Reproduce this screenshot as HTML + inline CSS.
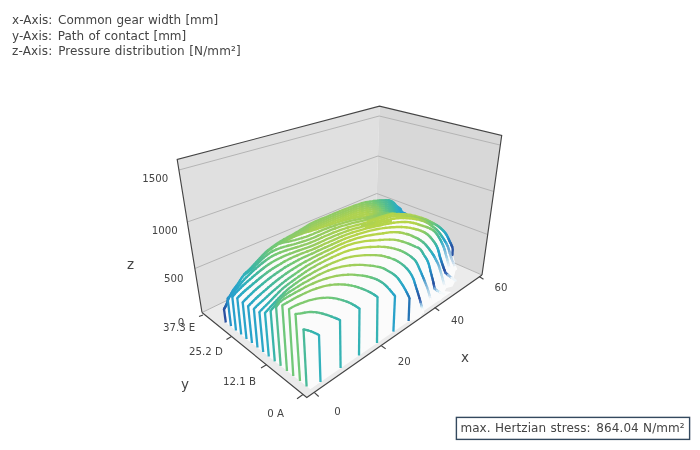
<!DOCTYPE html>
<html><head><meta charset="utf-8"><title>Pressure distribution</title>
<style>
html,body{margin:0;padding:0;background:#fff;}
body{width:700px;height:450px;overflow:hidden;position:relative;font-family:"DejaVu Sans", "Liberation Sans", sans-serif;color:#444;}
.t{position:absolute;white-space:nowrap;line-height:1;}
</style></head><body>
<svg width="700" height="450" viewBox="0 0 700 450" style="position:absolute;left:0;top:0">
<rect width="700" height="450" fill="#fff"/>
<polygon points="177.2,159.5 379.5,106.2 375.7,228.7 202.0,312.5" fill="#e0e0e0"/>
<polygon points="379.5,106.2 501.7,135.5 482.0,275.0 375.7,228.7" fill="#d8d8d8"/>
<polygon points="202.0,312.5 375.7,228.7 482.0,275.0 306.8,397.5" fill="#ebebeb"/>
<polyline points="178.9,170.0 379.2,116.0 500.0,145.0" fill="none" stroke="#b4b4b4" stroke-width="1"/>
<polyline points="187.3,222.0 378.0,156.0 493.8,191.5" fill="none" stroke="#b4b4b4" stroke-width="1"/>
<polyline points="194.9,268.5 376.8,193.5 487.7,234.5" fill="none" stroke="#b4b4b4" stroke-width="1"/>
<polyline points="202.0,312.5 375.7,228.7 482.0,275.0" fill="none" stroke="#b4b4b4" stroke-width="1"/>
<g id="plot" fill="none" stroke-width="2.3" stroke-linecap="round" stroke-linejoin="round">
<polygon points="310.4,389.1 451.2,291.9 444.5,291.0 447.5,286.0 453.0,280.0 456.0,268.0 452.0,250.0 430.0,240.0 300.0,300.0 223.4,320.5" fill="#fbfbfb" stroke="none"/>
<polygon points="224.0,309.2 224.7,307.9 225.5,306.6 226.2,305.3 226.8,304.0 227.1,302.9 227.2,302.0 227.4,301.0 228.0,299.5 229.0,297.4 230.4,294.9 231.8,292.3 233.3,289.9 234.8,287.7 236.4,285.6 237.9,283.6 239.1,281.9 239.9,280.5 240.5,279.4 241.0,278.5 241.5,277.6 242.0,276.8 242.5,276.1 243.1,275.3 244.0,274.4 245.3,273.2 246.8,271.8 248.5,270.3 250.0,268.9 251.3,267.5 252.6,266.2 253.8,264.8 255.0,263.5 256.2,262.1 257.5,260.8 258.8,259.4 260.0,258.1 261.2,256.7 262.5,255.4 263.8,254.0 265.0,252.8 266.2,251.7 267.5,250.6 268.8,249.6 270.0,248.6 271.2,247.6 272.5,246.7 273.8,245.8 275.0,244.9 276.2,244.1 277.4,243.3 278.6,242.5 280.0,241.6 281.6,240.7 283.3,239.7 285.1,238.6 287.0,237.6 289.0,236.5 291.0,235.4 293.0,234.3 295.0,233.2 296.8,232.1 298.5,231.1 300.2,230.0 302.0,228.9 304.0,227.7 306.0,226.5 308.0,225.2 310.0,224.1 311.8,223.1 313.5,222.2 315.2,221.4 317.0,220.6 319.0,219.8 321.1,219.0 323.2,218.2 325.0,217.5 326.3,216.9 327.4,216.5 328.5,216.0 330.0,215.3 332.1,214.4 334.7,213.4 337.4,212.3 340.0,211.2 342.5,210.2 345.0,209.2 347.5,208.2 350.0,207.3 352.6,206.3 355.3,205.4 357.9,204.5 360.0,203.8 361.5,203.3 362.5,203.0 363.5,202.7 365.0,202.4 367.3,202.0 370.0,201.6 372.7,201.2 375.0,200.9 376.5,200.7 377.6,200.6 378.6,200.6 380.0,200.5 382.0,200.4 384.2,200.2 386.5,200.2 388.5,200.3 390.0,200.7 391.3,201.2 392.5,201.8 393.5,202.5 394.4,203.3 395.1,204.2 395.7,205.1 396.5,206.0 397.5,206.8 398.6,207.5 399.7,208.3 400.5,209.0 401.0,209.8 401.2,210.6 401.5,211.3 402.0,212.0 402.8,212.6 403.8,213.1 404.9,213.5 406.0,214.0 408.5,214.5 409.9,214.7 411.1,215.0 412.3,215.3 413.6,215.6 415.0,216.0 416.6,216.4 418.2,216.9 419.9,217.4 421.6,217.9 423.3,218.5 425.0,219.2 426.7,219.9 428.5,220.8 430.2,221.6 432.0,222.5 433.6,223.4 435.0,224.2 436.2,224.9 437.3,225.6 438.3,226.3 439.2,227.0 440.1,227.7 441.0,228.5 441.9,229.3 442.8,230.2 443.7,231.1 444.5,232.0 445.3,233.0 446.0,234.0 446.7,235.1 447.3,236.2 447.9,237.4 448.4,238.6 449.0,239.8 449.5,241.0 450.1,242.2 450.7,243.3 451.2,244.5 451.7,245.7 452.2,246.8 452.5,248.0 452.7,249.2 452.7,250.3 452.6,251.5 452.5,252.7 452.5,253.8 452.4,255.0 455.0,263.0 456.0,268.0 453.0,280.0 447.5,286.0 444.5,291.0 310.4,389.1 225.8,322.5" fill="#fbfbfb" stroke="none"/>
<polyline points="354.0,218.1 356.0,217.7 358.0,217.4 360.0,217.0 362.0,216.7 364.0,216.4 366.0,216.1 368.0,215.7 370.0,215.3" stroke="#aed250"/>
<polyline points="370.0,215.3 372.0,214.9 374.0,214.5" stroke="#a6d055"/>
<polyline points="374.0,214.5 376.0,214.1 378.0,213.7" stroke="#9fce5a"/>
<polyline points="378.0,213.7 380.0,213.3" stroke="#90cb65"/>
<polyline points="380.0,213.3 382.0,213.2" stroke="#88ca6a"/>
<polyline points="382.0,213.2 384.0,213.0" stroke="#80ca6e"/>
<polyline points="384.0,213.0 386.0,212.9" stroke="#70c878"/>
<polyline points="386.0,212.9 388.0,212.7" stroke="#69c57e"/>
<polyline points="388.0,212.7 388.5,212.7 389.0,212.7" stroke="#62c284"/>
<polyline points="389.0,212.7 389.5,212.6" stroke="#5cc08a"/>
<polyline points="338.0,222.2 340.0,221.5 342.0,221.0 344.0,220.4 346.0,219.9 348.0,219.3 350.0,218.8 352.0,218.4 354.0,217.9 356.0,217.2 358.0,216.5 360.0,215.8 362.0,215.1 364.0,214.6 366.0,214.2 368.0,213.9 370.0,213.6" stroke="#aed250"/>
<polyline points="370.0,213.6 372.0,213.3 374.0,213.0" stroke="#a6d055"/>
<polyline points="374.0,213.0 376.0,212.8" stroke="#9fce5a"/>
<polyline points="376.0,212.8 378.0,212.6" stroke="#98cc60"/>
<polyline points="378.0,212.6 380.0,212.5" stroke="#90cb65"/>
<polyline points="380.0,212.5 382.0,212.4" stroke="#88ca6a"/>
<polyline points="382.0,212.4 384.0,212.3" stroke="#80ca6e"/>
<polyline points="384.0,212.3 386.0,212.2" stroke="#70c878"/>
<polyline points="386.0,212.2 388.0,212.3" stroke="#69c57e"/>
<polyline points="388.0,212.3 388.5,212.3" stroke="#62c284"/>
<polyline points="388.5,212.3 389.0,212.4 389.5,212.5 390.0,212.6" stroke="#5cc08a"/>
<polyline points="390.0,212.6 390.5,212.6 391.0,212.6 391.5,212.7" stroke="#55bd90"/>
<polyline points="391.5,212.7 392.0,212.7 392.5,212.7" stroke="#50bb95"/>
<polyline points="392.5,212.7 393.0,212.7 393.5,212.7" stroke="#4aba9a"/>
<polyline points="316.0,229.3 318.0,228.7 320.0,228.0 322.0,227.4 324.0,226.7 326.0,226.1 328.0,225.4 330.0,224.8 332.0,224.1 334.0,223.5 336.0,222.8 338.0,222.0 340.0,221.2 342.0,220.4 344.0,219.6 346.0,218.8 348.0,218.1 350.0,217.3 352.0,216.6 354.0,215.9 356.0,215.2 358.0,214.5 360.0,213.8 362.0,213.1 364.0,212.6 366.0,212.2 368.0,211.9" stroke="#aed250"/>
<polyline points="368.0,211.9 370.0,211.6 372.0,211.3 374.0,211.0" stroke="#a6d055"/>
<polyline points="374.0,211.0 376.0,210.8" stroke="#9fce5a"/>
<polyline points="376.0,210.8 378.0,210.6" stroke="#98cc60"/>
<polyline points="378.0,210.6 380.0,210.5" stroke="#90cb65"/>
<polyline points="380.0,210.5 382.0,210.4" stroke="#80ca6e"/>
<polyline points="382.0,210.4 384.0,210.3" stroke="#78c973"/>
<polyline points="384.0,210.3 386.0,210.2" stroke="#69c57e"/>
<polyline points="386.0,210.2 388.0,210.3" stroke="#62c284"/>
<polyline points="388.0,210.3 388.5,210.3 389.0,210.4" stroke="#5cc08a"/>
<polyline points="389.0,210.4 389.5,210.5 390.0,210.6 390.5,210.8" stroke="#55bd90"/>
<polyline points="390.5,210.8 391.0,211.0 391.5,211.3 392.0,211.5" stroke="#50bb95"/>
<polyline points="392.0,211.5 392.5,211.8 393.0,212.2 393.5,212.5 394.0,212.8" stroke="#4aba9a"/>
<polyline points="394.0,212.8 394.5,212.8 395.0,212.8" stroke="#45b89e"/>
<polyline points="395.0,212.8 395.5,212.8" stroke="#3fb7a3"/>
<polyline points="308.0,231.8 310.0,231.3 312.0,230.6 314.0,229.9 316.0,229.1" stroke="#a6d055"/>
<polyline points="316.0,229.1 318.0,228.2 320.0,227.4 322.0,226.6 324.0,225.9 326.0,225.1 328.0,224.2 330.0,223.3 332.0,222.5 334.0,221.6 336.0,220.8 338.0,220.0 340.0,219.2 342.0,218.4 344.0,217.6 346.0,216.8 348.0,216.1 350.0,215.3 352.0,214.6 354.0,213.9 356.0,213.2 358.0,212.5 360.0,211.8 362.0,211.1" stroke="#aed250"/>
<polyline points="362.0,211.1 364.0,210.6 366.0,210.2 368.0,209.9 370.0,209.6" stroke="#a6d055"/>
<polyline points="370.0,209.6 372.0,209.3 374.0,209.0" stroke="#9fce5a"/>
<polyline points="374.0,209.0 376.0,208.8" stroke="#98cc60"/>
<polyline points="376.0,208.8 378.0,208.6" stroke="#90cb65"/>
<polyline points="378.0,208.6 380.0,208.5" stroke="#88ca6a"/>
<polyline points="380.0,208.5 382.0,208.4" stroke="#80ca6e"/>
<polyline points="382.0,208.4 384.0,208.3" stroke="#70c878"/>
<polyline points="384.0,208.3 386.0,208.2" stroke="#69c57e"/>
<polyline points="386.0,208.2 388.0,208.3" stroke="#5cc08a"/>
<polyline points="388.0,208.3 388.5,208.3 389.0,208.4 389.5,208.5" stroke="#55bd90"/>
<polyline points="389.5,208.5 390.0,208.6 390.5,208.8 391.0,209.0" stroke="#50bb95"/>
<polyline points="391.0,209.0 391.5,209.3 392.0,209.5 392.5,209.8" stroke="#4aba9a"/>
<polyline points="392.5,209.8 393.0,210.2 393.5,210.5 394.0,211.0 394.5,211.5" stroke="#45b89e"/>
<polyline points="394.5,211.5 395.0,212.1 395.5,212.8" stroke="#3fb7a3"/>
<polyline points="395.5,212.8 396.0,212.8" stroke="#3ab5a8"/>
<polyline points="396.0,212.8 396.5,212.9 397.0,212.9" stroke="#37b4ae"/>
<polyline points="397.0,212.9 397.5,212.9" stroke="#34b2b4"/>
<polyline points="300.0,234.5 302.0,233.8 304.0,233.0 306.0,232.4 308.0,231.2 310.0,230.1" stroke="#9fce5a"/>
<polyline points="310.0,230.1 312.0,229.0 314.0,228.0 316.0,227.1 318.0,226.2 320.0,225.4 322.0,224.6 324.0,223.9 326.0,223.1 328.0,222.2 330.0,221.3 332.0,220.5 334.0,219.6 336.0,218.8 338.0,218.0 340.0,217.2 342.0,216.4 344.0,215.6 346.0,214.8 348.0,214.1 350.0,213.3 352.0,212.6 354.0,211.9 356.0,211.2 358.0,210.5 360.0,209.8 362.0,209.1" stroke="#a6d055"/>
<polyline points="362.0,209.1 364.0,208.6 366.0,208.2 368.0,207.9 370.0,207.6" stroke="#9fce5a"/>
<polyline points="370.0,207.6 372.0,207.3" stroke="#98cc60"/>
<polyline points="372.0,207.3 374.0,207.0 376.0,206.8" stroke="#90cb65"/>
<polyline points="376.0,206.8 378.0,206.6" stroke="#88ca6a"/>
<polyline points="378.0,206.6 380.0,206.5" stroke="#80ca6e"/>
<polyline points="380.0,206.5 382.0,206.4" stroke="#70c878"/>
<polyline points="382.0,206.4 384.0,206.3" stroke="#69c57e"/>
<polyline points="384.0,206.3 386.0,206.2" stroke="#62c284"/>
<polyline points="386.0,206.2 388.0,206.3" stroke="#55bd90"/>
<polyline points="388.0,206.3 388.5,206.3 389.0,206.4 389.5,206.5" stroke="#50bb95"/>
<polyline points="389.5,206.5 390.0,206.6 390.5,206.8 391.0,207.0 391.5,207.3" stroke="#4aba9a"/>
<polyline points="391.5,207.3 392.0,207.5 392.5,207.8 393.0,208.2" stroke="#45b89e"/>
<polyline points="393.0,208.2 393.5,208.5 394.0,209.0 394.5,209.5" stroke="#3fb7a3"/>
<polyline points="394.5,209.5 395.0,210.1 395.5,210.8 396.0,211.4" stroke="#3ab5a8"/>
<polyline points="396.0,211.4 396.5,212.0 397.0,212.4" stroke="#37b4ae"/>
<polyline points="397.0,212.4 397.5,212.8 398.0,212.9" stroke="#34b2b4"/>
<polyline points="398.0,212.9 398.5,212.9" stroke="#32b1ba"/>
<polyline points="398.5,212.9 399.0,213.0 399.5,213.0" stroke="#2fb0c0"/>
<polyline points="399.5,213.0 400.0,213.0" stroke="#2dacc3"/>
<polyline points="400.0,213.0 400.5,213.1" stroke="#2ca9c5"/>
<polyline points="284.0,241.4 286.0,240.4" stroke="#88ca6a"/>
<polyline points="286.0,240.4 288.0,239.5 290.0,238.6 292.0,237.7 294.0,236.8" stroke="#90cb65"/>
<polyline points="294.0,236.8 296.0,236.0 298.0,235.2 300.0,234.1 302.0,232.9 304.0,231.7 306.0,230.5 308.0,229.2 310.0,228.1" stroke="#98cc60"/>
<polyline points="310.0,228.1 312.0,227.0 314.0,226.0 316.0,225.1 318.0,224.2 320.0,223.4 322.0,222.6 324.0,221.9 326.0,221.1 328.0,220.2 330.0,219.3 332.0,218.5 334.0,217.6 336.0,216.8 338.0,216.0 340.0,215.2 342.0,214.4 344.0,213.6 346.0,212.8 348.0,212.1 350.0,211.3 352.0,210.6 354.0,209.9 356.0,209.2 358.0,208.5 360.0,207.8 362.0,207.1" stroke="#9fce5a"/>
<polyline points="362.0,207.1 364.0,206.6 366.0,206.2 368.0,205.9" stroke="#98cc60"/>
<polyline points="368.0,205.9 370.0,205.6 372.0,205.3" stroke="#90cb65"/>
<polyline points="372.0,205.3 374.0,205.0" stroke="#88ca6a"/>
<polyline points="374.0,205.0 376.0,204.8 378.0,204.6" stroke="#80ca6e"/>
<polyline points="378.0,204.6 380.0,204.5" stroke="#70c878"/>
<polyline points="380.0,204.5 382.0,204.4" stroke="#69c57e"/>
<polyline points="382.0,204.4 384.0,204.3" stroke="#62c284"/>
<polyline points="384.0,204.3 386.0,204.2" stroke="#5cc08a"/>
<polyline points="386.0,204.2 388.0,204.3 388.5,204.3" stroke="#50bb95"/>
<polyline points="388.5,204.3 389.0,204.4 389.5,204.5 390.0,204.6" stroke="#4aba9a"/>
<polyline points="390.0,204.6 390.5,204.8 391.0,205.0 391.5,205.3" stroke="#45b89e"/>
<polyline points="391.5,205.3 392.0,205.5 392.5,205.8 393.0,206.2 393.5,206.5" stroke="#3fb7a3"/>
<polyline points="393.5,206.5 394.0,207.0 394.5,207.5 395.0,208.1" stroke="#3ab5a8"/>
<polyline points="395.0,208.1 395.5,208.8 396.0,209.4" stroke="#37b4ae"/>
<polyline points="396.0,209.4 396.5,210.0 397.0,210.4" stroke="#34b2b4"/>
<polyline points="397.0,210.4 397.5,210.8 398.0,211.1" stroke="#32b1ba"/>
<polyline points="398.0,211.1 398.5,211.5 399.0,211.8" stroke="#2fb0c0"/>
<polyline points="399.0,211.8 399.5,212.2 400.0,212.6" stroke="#2dacc3"/>
<polyline points="400.0,212.6 400.5,213.0 401.0,213.2" stroke="#2ca9c5"/>
<polyline points="244.0,275.0 246.0,273.2" stroke="#34b2b4"/>
<polyline points="246.0,273.2 248.0,271.5" stroke="#37b4ae"/>
<polyline points="248.0,271.5 250.0,269.7" stroke="#3ab5a8"/>
<polyline points="250.0,269.7 252.0,267.6" stroke="#3fb7a3"/>
<polyline points="252.0,267.6 254.0,265.4" stroke="#45b89e"/>
<polyline points="254.0,265.4 256.0,263.2" stroke="#4aba9a"/>
<polyline points="256.0,263.2 258.0,261.1" stroke="#50bb95"/>
<polyline points="258.0,261.1 260.0,258.9" stroke="#55bd90"/>
<polyline points="260.0,258.9 262.0,256.7" stroke="#5cc08a"/>
<polyline points="262.0,256.7 264.0,254.6 266.0,252.7" stroke="#62c284"/>
<polyline points="266.0,252.7 268.0,251.2" stroke="#69c57e"/>
<polyline points="268.0,251.2 270.0,249.7 272.0,248.3" stroke="#70c878"/>
<polyline points="272.0,248.3 274.0,246.9 276.0,245.7" stroke="#78c973"/>
<polyline points="276.0,245.7 278.0,244.4 280.0,243.3" stroke="#80ca6e"/>
<polyline points="280.0,243.3 282.0,242.3 284.0,241.3 286.0,240.2 288.0,239.0" stroke="#88ca6a"/>
<polyline points="288.0,239.0 290.0,238.0 292.0,236.9 294.0,235.8 296.0,234.6 298.0,233.4 300.0,232.1 302.0,230.9 304.0,229.7 306.0,228.5 308.0,227.2 310.0,226.1" stroke="#90cb65"/>
<polyline points="310.0,226.1 312.0,225.0 314.0,224.0 316.0,223.1 318.0,222.2 320.0,221.4 322.0,220.6 324.0,219.9 326.0,219.1 328.0,218.2 330.0,217.3 332.0,216.5 334.0,215.6 336.0,214.8 338.0,214.0 340.0,213.2 342.0,212.4 344.0,211.6 346.0,210.8 348.0,210.1 350.0,209.3 352.0,208.6 354.0,207.9 356.0,207.2 358.0,206.5 360.0,205.8 362.0,205.1" stroke="#98cc60"/>
<polyline points="362.0,205.1 364.0,204.6 366.0,204.2 368.0,203.9" stroke="#90cb65"/>
<polyline points="368.0,203.9 370.0,203.6" stroke="#88ca6a"/>
<polyline points="370.0,203.6 372.0,203.3 374.0,203.0" stroke="#80ca6e"/>
<polyline points="374.0,203.0 376.0,202.8" stroke="#78c973"/>
<polyline points="376.0,202.8 378.0,202.6" stroke="#70c878"/>
<polyline points="378.0,202.6 380.0,202.5" stroke="#69c57e"/>
<polyline points="380.0,202.5 382.0,202.4" stroke="#62c284"/>
<polyline points="382.0,202.4 384.0,202.3" stroke="#5cc08a"/>
<polyline points="384.0,202.3 386.0,202.2" stroke="#55bd90"/>
<polyline points="386.0,202.2 388.0,202.3" stroke="#50bb95"/>
<polyline points="388.0,202.3 388.5,202.3 389.0,202.4" stroke="#4aba9a"/>
<polyline points="389.0,202.4 389.5,202.5 390.0,202.6 390.5,202.8" stroke="#45b89e"/>
<polyline points="390.5,202.8 391.0,203.0 391.5,203.3 392.0,203.5" stroke="#3fb7a3"/>
<polyline points="392.0,203.5 392.5,203.8 393.0,204.2 393.5,204.5 394.0,205.0" stroke="#3ab5a8"/>
<polyline points="394.0,205.0 394.5,205.5 395.0,206.1 395.5,206.8" stroke="#37b4ae"/>
<polyline points="395.5,206.8 396.0,207.4 396.5,208.0" stroke="#34b2b4"/>
<polyline points="396.5,208.0 397.0,208.4 397.5,208.8" stroke="#32b1ba"/>
<polyline points="397.5,208.8 398.0,209.1 398.5,209.5" stroke="#2fb0c0"/>
<polyline points="398.5,209.5 399.0,209.8 399.5,210.2" stroke="#2dacc3"/>
<polyline points="399.5,210.2 400.0,210.6 400.5,211.0" stroke="#2ca9c5"/>
<polyline points="400.5,211.0 401.0,211.8 401.5,213.2" stroke="#2aa5c8"/>
<polyline points="401.5,213.2 402.0,213.3" stroke="#29a3c9"/>
<polyline points="402.0,213.3 402.5,213.4 403.0,213.5 403.5,213.6" stroke="#29a2cb"/>
<polyline points="403.5,213.6 404.0,213.7 404.5,213.8" stroke="#28a0cc"/>
<polyline points="404.5,213.8 405.0,213.8 405.5,213.9 406.0,214.0" stroke="#2799c9"/>
<polyline points="244.0,274.4 246.0,272.5" stroke="#32b1ba"/>
<polyline points="246.0,272.5 248.0,270.8" stroke="#34b2b4"/>
<polyline points="248.0,270.8 250.0,268.9" stroke="#37b4ae"/>
<polyline points="250.0,268.9 252.0,266.8" stroke="#3ab5a8"/>
<polyline points="252.0,266.8 254.0,264.6" stroke="#3fb7a3"/>
<polyline points="254.0,264.6 256.0,262.4" stroke="#45b89e"/>
<polyline points="256.0,262.4 258.0,260.3" stroke="#4aba9a"/>
<polyline points="258.0,260.3 260.0,258.1" stroke="#50bb95"/>
<polyline points="260.0,258.1 262.0,255.9" stroke="#55bd90"/>
<polyline points="262.0,255.9 264.0,253.8 266.0,251.9" stroke="#5cc08a"/>
<polyline points="266.0,251.9 268.0,250.2" stroke="#62c284"/>
<polyline points="268.0,250.2 270.0,248.6 272.0,247.1" stroke="#69c57e"/>
<polyline points="272.0,247.1 274.0,245.6 276.0,244.2 278.0,242.9" stroke="#70c878"/>
<polyline points="278.0,242.9 280.0,241.6 282.0,240.4 284.0,239.3" stroke="#78c973"/>
<polyline points="284.0,239.3 286.0,238.2 288.0,237.0 290.0,236.0" stroke="#80ca6e"/>
<polyline points="290.0,236.0 292.0,234.9 294.0,233.8 296.0,232.6 298.0,231.4 300.0,230.1 302.0,228.9 304.0,227.7 306.0,226.5 308.0,225.2 310.0,224.1" stroke="#88ca6a"/>
<polyline points="310.0,224.1 312.0,223.0 314.0,222.0 316.0,221.1 318.0,220.2 320.0,219.4 322.0,218.6 324.0,217.9 326.0,217.1 328.0,216.2 330.0,215.3 332.0,214.5 334.0,213.6 336.0,212.8 338.0,212.0 340.0,211.2" stroke="#90cb65"/>
<polyline points="340.0,211.2 342.0,210.4 344.0,209.6 346.0,208.8 348.0,208.1 350.0,207.3 352.0,206.6 354.0,205.9" stroke="#98cc60"/>
<polyline points="354.0,205.9 356.0,205.2 358.0,204.5 360.0,203.8 362.0,203.1" stroke="#90cb65"/>
<polyline points="362.0,203.1 364.0,202.6 366.0,202.2" stroke="#88ca6a"/>
<polyline points="366.0,202.2 368.0,201.9 370.0,201.6" stroke="#80ca6e"/>
<polyline points="370.0,201.6 372.0,201.3 374.0,201.0" stroke="#78c973"/>
<polyline points="374.0,201.0 376.0,200.8" stroke="#70c878"/>
<polyline points="376.0,200.8 378.0,200.6" stroke="#69c57e"/>
<polyline points="378.0,200.6 380.0,200.5" stroke="#62c284"/>
<polyline points="380.0,200.5 382.0,200.4" stroke="#5cc08a"/>
<polyline points="382.0,200.4 384.0,200.3" stroke="#55bd90"/>
<polyline points="384.0,200.3 386.0,200.2" stroke="#50bb95"/>
<polyline points="386.0,200.2 388.0,200.3" stroke="#4aba9a"/>
<polyline points="388.0,200.3 388.5,200.3 389.0,200.4" stroke="#45b89e"/>
<polyline points="389.0,200.4 389.5,200.5 390.0,200.6 390.5,200.8 391.0,201.0" stroke="#3fb7a3"/>
<polyline points="391.0,201.0 391.5,201.3 392.0,201.5 392.5,201.8" stroke="#3ab5a8"/>
<polyline points="392.5,201.8 393.0,202.2 393.5,202.5 394.0,203.0" stroke="#37b4ae"/>
<polyline points="394.0,203.0 394.5,203.5 395.0,204.1 395.5,204.8" stroke="#34b2b4"/>
<polyline points="395.5,204.8 396.0,205.4 396.5,206.0" stroke="#32b1ba"/>
<polyline points="396.5,206.0 397.0,206.4 397.5,206.8" stroke="#2fb0c0"/>
<polyline points="397.5,206.8 398.0,207.1 398.5,207.5" stroke="#2dacc3"/>
<polyline points="398.5,207.5 399.0,207.8 399.5,208.2" stroke="#2ca9c5"/>
<polyline points="399.5,208.2 400.0,208.6 400.5,209.0" stroke="#2aa5c8"/>
<polyline points="400.5,209.0 401.0,209.8 401.5,211.3" stroke="#29a3c9"/>
<polyline points="401.5,211.3 402.0,212.0 402.5,212.3 403.0,212.7" stroke="#29a2cb"/>
<polyline points="403.0,212.7 403.5,212.9 404.0,213.1 404.5,213.3" stroke="#28a0cc"/>
<polyline points="404.5,213.3 405.0,213.5 405.5,213.8 406.0,214.0" stroke="#2799c9"/>
<polyline points="280.0,243.3 281.2,243.1" stroke="#78c973" stroke-width="2.4"/>
<polyline points="281.2,243.1 282.3,242.8 283.4,242.6 284.6,242.3 285.8,242.1 287.0,241.8 288.3,241.6" stroke="#80ca6e" stroke-width="2.4"/>
<polyline points="288.3,241.6 289.6,241.3 291.0,241.0 292.4,240.7 293.7,240.4 295.0,240.1 296.2,239.7 297.4,239.4 298.5,239.1 299.6,238.7 300.8,238.4 302.0,238.0" stroke="#88ca6a" stroke-width="2.4"/>
<polyline points="302.0,238.0 303.3,237.6 304.5,237.2 305.8,236.8 307.1,236.3 308.5,235.8 310.0,235.2 311.6,234.6 313.2,234.0 314.9,233.2 316.6,232.5 318.3,231.8" stroke="#90cb65" stroke-width="2.4"/>
<polyline points="318.3,231.8 320.0,231.1 321.7,230.4 323.3,229.7 325.0,229.1 326.7,228.5 328.3,227.8 330.0,227.2 331.7,226.6 333.3,226.1 335.0,225.5" stroke="#98cc60" stroke-width="2.4"/>
<polyline points="335.0,225.5 336.7,224.9 338.3,224.4 340.0,223.9 341.7,223.4 343.4,222.9 345.1,222.4 346.8,221.9 348.4,221.5 350.0,221.1 351.5,220.7 352.9,220.4 354.2,220.1 355.5,219.8 356.7,219.6 358.0,219.3 359.2,219.1 360.4,218.9 361.6,218.6 362.7,218.4 363.8,218.2 365.0,218.0 366.2,217.7 367.3,217.5" stroke="#9fce5a" stroke-width="2.4"/>
<polyline points="367.3,217.5 368.4,217.2 369.6,217.0 370.8,216.7 372.0,216.4 373.3,216.1 374.6,215.7" stroke="#98cc60" stroke-width="2.4"/>
<polyline points="374.6,215.7 375.9,215.4 377.3,215.0 378.7,214.7" stroke="#90cb65" stroke-width="2.4"/>
<polyline points="378.7,214.7 380.0,214.4 381.3,214.1 382.7,213.8" stroke="#88ca6a" stroke-width="2.4"/>
<polyline points="382.7,213.8 384.0,213.6 385.3,213.4 386.7,213.1" stroke="#80ca6e" stroke-width="2.4"/>
<polyline points="386.7,213.1 388.0,212.9" stroke="#78c973" stroke-width="2.4"/>
<line x1="225.8" y1="322.5" x2="224" y2="309.2" stroke="#2a4fa0" stroke-linecap="butt"/>
<polyline points="224.0,309.2 224.4,308.4" stroke="#2a4fa0" stroke-width="2.4"/>
<polyline points="224.4,308.4 224.9,307.6" stroke="#2a54a3" stroke-width="2.4"/>
<polyline points="224.9,307.6 225.4,306.7" stroke="#295aa6" stroke-width="2.4"/>
<polyline points="225.4,306.7 225.8,305.9" stroke="#285faa" stroke-width="2.4"/>
<polyline points="225.8,305.9 226.2,305.1" stroke="#2865ad" stroke-width="2.4"/>
<polyline points="226.2,305.1 226.6,304.3" stroke="#286ab0" stroke-width="2.4"/>
<polyline points="226.6,304.3 226.9,303.5" stroke="#276fb3" stroke-width="2.4"/>
<polyline points="226.9,303.5 227.2,302.7" stroke="#2675b6" stroke-width="2.4"/>
<polyline points="227.2,302.7 227.4,301.9 227.7,301.1" stroke="#267aba" stroke-width="2.4"/>
<polyline points="227.7,301.1 227.9,300.3" stroke="#2680bd" stroke-width="2.4"/>
<polyline points="227.9,300.3 228.2,299.5 228.5,298.7" stroke="#2585c0" stroke-width="2.4"/>
<polyline points="228.5,298.7 228.9,298.0 229.3,297.3 229.7,296.5 230.1,295.8" stroke="#268cc3" stroke-width="2.4"/>
<polyline points="230.1,295.8 230.5,295.0 230.9,294.2 231.4,293.3" stroke="#2692c6" stroke-width="2.4"/>
<polyline points="231.4,293.3 231.8,292.5 232.3,291.6" stroke="#2799c9" stroke-width="2.4"/>
<polyline points="232.3,291.6 232.8,290.8 233.3,290.0" stroke="#28a0cc" stroke-width="2.4"/>
<polyline points="233.3,290.0 233.8,289.3 234.4,288.5 234.9,287.8" stroke="#29a2cb" stroke-width="2.4"/>
<polyline points="234.9,287.8 235.5,287.1 236.0,286.4 236.5,285.7" stroke="#29a3c9" stroke-width="2.4"/>
<polyline points="236.5,285.7 237.0,285.0 237.4,284.4 237.8,283.8 238.3,283.2" stroke="#2aa5c8" stroke-width="2.4"/>
<polyline points="238.3,283.2 238.7,282.6 239.1,281.9 239.5,281.3 239.9,280.6" stroke="#2ca9c5" stroke-width="2.4"/>
<polyline points="239.9,280.6 240.3,279.9 240.7,279.3 241.1,278.6 241.5,278.0 241.9,277.5 242.3,276.9" stroke="#2dacc3" stroke-width="2.4"/>
<polyline points="242.3,276.9 242.7,276.4 243.1,275.9 243.6,275.5 244.0,275.0 244.5,274.6" stroke="#2fb0c0" stroke-width="2.4"/>
<polyline points="244.5,274.6 245.0,274.2 245.5,273.8 246.0,273.4 246.5,273.0" stroke="#32b1ba" stroke-width="2.4"/>
<polyline points="246.5,273.0 247.0,272.6 247.5,272.3 247.9,272.1 248.2,271.8 248.7,271.5" stroke="#34b2b4" stroke-width="2.4"/>
<polyline points="248.7,271.5 249.3,271.1 250.0,270.5 250.9,269.7" stroke="#37b4ae" stroke-width="2.4"/>
<polyline points="250.9,269.7 252.0,268.8 253.2,267.6" stroke="#3ab5a8" stroke-width="2.4"/>
<polyline points="253.2,267.6 254.4,266.4" stroke="#3fb7a3" stroke-width="2.4"/>
<polyline points="254.4,266.4 255.7,265.2 257.0,264.0" stroke="#45b89e" stroke-width="2.4"/>
<polyline points="257.0,264.0 258.3,262.8 259.6,261.5" stroke="#4aba9a" stroke-width="2.4"/>
<polyline points="259.6,261.5 261.0,260.2" stroke="#50bb95" stroke-width="2.4"/>
<polyline points="261.0,260.2 262.4,258.9 263.7,257.7" stroke="#55bd90" stroke-width="2.4"/>
<polyline points="263.7,257.7 265.0,256.6 266.2,255.6" stroke="#5cc08a" stroke-width="2.4"/>
<polyline points="266.2,255.6 267.4,254.7 268.5,253.9" stroke="#62c284" stroke-width="2.4"/>
<polyline points="268.5,253.9 269.6,253.1 270.8,252.3 272.0,251.6" stroke="#69c57e" stroke-width="2.4"/>
<polyline points="272.0,251.6 273.3,250.9 274.6,250.3 276.0,249.7" stroke="#70c878" stroke-width="2.4"/>
<polyline points="276.0,249.7 277.4,249.1 278.7,248.6 280.0,248.2 281.2,247.7" stroke="#78c973" stroke-width="2.4"/>
<polyline points="281.2,247.7 282.4,247.4 283.5,247.0 284.6,246.7 285.8,246.4 287.0,246.0 288.3,245.7" stroke="#80ca6e" stroke-width="2.4"/>
<polyline points="288.3,245.7 289.6,245.3 291.0,245.0 292.4,244.6 293.7,244.3 295.0,243.9 296.2,243.6 297.4,243.2 298.5,242.9 299.6,242.5 300.8,242.2 302.0,241.8" stroke="#88ca6a" stroke-width="2.4"/>
<polyline points="302.0,241.8 303.3,241.4 304.5,241.0 305.8,240.6 307.1,240.1 308.5,239.6 310.0,239.1 311.6,238.4 313.2,237.8 314.9,237.1 316.6,236.3 318.3,235.5" stroke="#90cb65" stroke-width="2.4"/>
<polyline points="318.3,235.5 320.0,234.8 321.7,234.0 323.3,233.3 325.0,232.5 326.7,231.8 328.3,231.1 330.0,230.4 331.7,229.7 333.3,229.1 335.0,228.5" stroke="#98cc60" stroke-width="2.4"/>
<polyline points="335.0,228.5 336.7,227.9 338.3,227.3 340.0,226.7 341.6,226.2 343.1,225.7 344.7,225.3 346.3,224.8 348.0,224.3 350.0,223.8 352.2,223.2 354.6,222.6 357.2,222.0 359.8,221.4 362.4,220.8 365.0,220.1 367.6,219.4" stroke="#9fce5a" stroke-width="2.4"/>
<polyline points="367.6,219.4 370.3,218.6 372.9,217.8 375.5,217.1" stroke="#98cc60" stroke-width="2.4"/>
<polyline points="375.5,217.1 377.9,216.4" stroke="#90cb65" stroke-width="2.4"/>
<polyline points="377.9,216.4 380.0,215.7 381.8,215.3 383.2,214.9" stroke="#88ca6a" stroke-width="2.4"/>
<polyline points="383.2,214.9 384.5,214.6 385.7,214.3" stroke="#80ca6e" stroke-width="2.4"/>
<polyline points="385.7,214.3 386.8,214.1 388.0,213.9 389.2,213.7" stroke="#78c973" stroke-width="2.4"/>
<polyline points="389.2,213.7 390.4,213.5 391.6,213.4 392.7,213.2" stroke="#70c878" stroke-width="2.4"/>
<polyline points="392.7,213.2 393.8,213.2 395.0,213.1" stroke="#69c57e" stroke-width="2.4"/>
<polyline points="368.0,220.8 370.5,220.0 373.0,219.3 375.5,218.5 378.0,217.7 380.5,216.9 383.0,216.1 385.5,215.3 388.0,214.6 390.5,214.0 393.0,213.7" stroke="#aed250"/>
<line x1="231" y1="326.2" x2="227.6" y2="298.6" stroke="#2692c6" stroke-linecap="butt"/>
<polyline points="227.6,298.6 228.0,298.1 228.4,297.7 228.8,297.2" stroke="#2692c6" stroke-width="2.4"/>
<polyline points="228.8,297.2 229.2,296.7 229.6,296.3 230.0,295.8 230.5,295.3 231.0,294.8" stroke="#2799c9" stroke-width="2.4"/>
<polyline points="231.0,294.8 231.5,294.3 232.0,293.8 232.5,293.3" stroke="#28a0cc" stroke-width="2.4"/>
<polyline points="232.5,293.3 233.0,292.8 233.5,292.3 234.0,291.7 234.4,291.2" stroke="#29a2cb" stroke-width="2.4"/>
<polyline points="234.4,291.2 234.9,290.6 235.4,290.0 236.0,289.3 236.6,288.6" stroke="#29a3c9" stroke-width="2.4"/>
<polyline points="236.6,288.6 237.2,287.8 237.9,287.1" stroke="#2aa5c8" stroke-width="2.4"/>
<polyline points="237.9,287.1 238.6,286.2 239.3,285.4 240.0,284.5" stroke="#2ca9c5" stroke-width="2.4"/>
<polyline points="240.0,284.5 240.8,283.6 241.6,282.6 242.4,281.5" stroke="#2dacc3" stroke-width="2.4"/>
<polyline points="242.4,281.5 243.3,280.5 244.2,279.6" stroke="#2fb0c0" stroke-width="2.4"/>
<polyline points="244.2,279.6 245.0,278.6 245.8,277.8 246.6,277.0" stroke="#32b1ba" stroke-width="2.4"/>
<polyline points="246.6,277.0 247.4,276.3 248.2,275.5 249.1,274.7" stroke="#34b2b4" stroke-width="2.4"/>
<polyline points="249.1,274.7 250.0,273.8 251.0,272.8" stroke="#37b4ae" stroke-width="2.4"/>
<polyline points="251.0,272.8 252.1,271.8 253.3,270.7" stroke="#3ab5a8" stroke-width="2.4"/>
<polyline points="253.3,270.7 254.5,269.6 255.8,268.5" stroke="#3fb7a3" stroke-width="2.4"/>
<polyline points="255.8,268.5 257.0,267.4 258.3,266.3" stroke="#45b89e" stroke-width="2.4"/>
<polyline points="258.3,266.3 259.6,265.2" stroke="#4aba9a" stroke-width="2.4"/>
<polyline points="259.6,265.2 261.0,264.1 262.4,263.0" stroke="#50bb95" stroke-width="2.4"/>
<polyline points="262.4,263.0 263.7,262.0 265.0,261.0" stroke="#55bd90" stroke-width="2.4"/>
<polyline points="265.0,261.0 266.2,260.1" stroke="#5cc08a" stroke-width="2.4"/>
<polyline points="266.2,260.1 267.4,259.3 268.5,258.5" stroke="#62c284" stroke-width="2.4"/>
<polyline points="268.5,258.5 269.6,257.7 270.8,257.0 272.0,256.3" stroke="#69c57e" stroke-width="2.4"/>
<polyline points="272.0,256.3 273.3,255.6 274.6,254.9 276.0,254.3" stroke="#70c878" stroke-width="2.4"/>
<polyline points="276.0,254.3 277.4,253.7 278.7,253.1 280.0,252.6" stroke="#78c973" stroke-width="2.4"/>
<polyline points="280.0,252.6 281.2,252.1 282.4,251.7 283.5,251.3 284.6,250.9 285.8,250.5 287.0,250.1" stroke="#80ca6e" stroke-width="2.4"/>
<polyline points="287.0,250.1 288.3,249.7 289.6,249.3 291.0,248.9 292.4,248.5 293.7,248.1 295.0,247.7 296.2,247.4" stroke="#88ca6a" stroke-width="2.4"/>
<polyline points="296.2,247.4 297.4,247.0 298.5,246.6 299.6,246.3 300.8,245.9 302.0,245.5 303.3,245.1 304.5,244.7 305.8,244.3 307.1,243.9 308.5,243.4 310.0,242.8" stroke="#90cb65" stroke-width="2.4"/>
<polyline points="310.0,242.8 311.6,242.2 313.2,241.5 314.9,240.8 316.6,240.0 318.3,239.3 320.0,238.5 321.7,237.7" stroke="#98cc60" stroke-width="2.4"/>
<polyline points="321.7,237.7 323.3,237.0 325.0,236.2 326.7,235.5 328.3,234.8 330.0,234.1 331.7,233.4 333.3,232.7" stroke="#9fce5a" stroke-width="2.4"/>
<polyline points="333.3,232.7 335.0,232.1 336.7,231.5 338.3,230.8 340.0,230.2 341.6,229.6 343.1,229.1 344.7,228.6 346.3,228.0 348.0,227.5" stroke="#a6d055" stroke-width="2.4"/>
<polyline points="348.0,227.5 350.0,226.9 352.2,226.3 354.6,225.6 357.2,225.0 359.8,224.3 362.4,223.6 365.0,222.9" stroke="#aed250" stroke-width="2.4"/>
<polyline points="365.0,222.9 367.6,222.2 370.3,221.5 372.9,220.7 375.5,219.9 377.9,219.1 380.0,218.4 381.8,217.8 383.2,217.3 384.5,216.8 385.7,216.4 386.8,216.0 388.0,215.6 389.2,215.3 390.2,215.0 391.2,214.8 392.3,214.6 393.6,214.4 395.0,214.2" stroke="#b5d44a" stroke-width="2.4"/>
<polyline points="395.0,214.2 396.8,214.1 398.8,214.0 400.9,214.1 403.1,214.2 405.2,214.3 407.0,214.4 408.5,214.6 409.9,214.8 411.1,215.0 412.3,215.3 413.6,215.6 415.0,216.0" stroke="#aed250" stroke-width="2.4"/>
<polyline points="415.0,216.0 416.6,216.4 418.2,216.9 419.9,217.4 421.6,217.9" stroke="#a6d055" stroke-width="2.4"/>
<polyline points="421.6,217.9 423.3,218.5 425.0,219.2" stroke="#9fce5a" stroke-width="2.4"/>
<polyline points="425.0,219.2 426.7,219.9" stroke="#98cc60" stroke-width="2.4"/>
<polyline points="426.7,219.9 428.5,220.8" stroke="#90cb65" stroke-width="2.4"/>
<polyline points="428.5,220.8 430.2,221.6" stroke="#88ca6a" stroke-width="2.4"/>
<polyline points="430.2,221.6 432.0,222.5" stroke="#80ca6e" stroke-width="2.4"/>
<polyline points="432.0,222.5 433.6,223.4" stroke="#78c973" stroke-width="2.4"/>
<polyline points="433.6,223.4 435.0,224.2" stroke="#69c57e" stroke-width="2.4"/>
<polyline points="435.0,224.2 436.2,224.9" stroke="#62c284" stroke-width="2.4"/>
<polyline points="436.2,224.9 437.3,225.6" stroke="#5cc08a" stroke-width="2.4"/>
<polyline points="437.3,225.6 438.3,226.3" stroke="#55bd90" stroke-width="2.4"/>
<polyline points="438.3,226.3 439.2,227.0" stroke="#50bb95" stroke-width="2.4"/>
<polyline points="439.2,227.0 440.1,227.7" stroke="#4aba9a" stroke-width="2.4"/>
<polyline points="440.1,227.7 441.0,228.5" stroke="#45b89e" stroke-width="2.4"/>
<polyline points="441.0,228.5 441.9,229.3" stroke="#3ab5a8" stroke-width="2.4"/>
<polyline points="441.9,229.3 442.8,230.2" stroke="#37b4ae" stroke-width="2.4"/>
<polyline points="442.8,230.2 443.7,231.1" stroke="#34b2b4" stroke-width="2.4"/>
<polyline points="443.7,231.1 444.5,232.0" stroke="#2fb0c0" stroke-width="2.4"/>
<polyline points="444.5,232.0 445.3,233.0" stroke="#2dacc3" stroke-width="2.4"/>
<polyline points="445.3,233.0 446.0,234.0" stroke="#2ca9c5" stroke-width="2.4"/>
<polyline points="446.0,234.0 446.7,235.1" stroke="#29a3c9" stroke-width="2.4"/>
<polyline points="446.7,235.1 447.3,236.2" stroke="#29a2cb" stroke-width="2.4"/>
<polyline points="447.3,236.2 447.9,237.4" stroke="#28a0cc" stroke-width="2.4"/>
<polyline points="447.9,237.4 448.4,238.6" stroke="#2799c9" stroke-width="2.4"/>
<polyline points="448.4,238.6 449.0,239.8" stroke="#268cc3" stroke-width="2.4"/>
<polyline points="449.0,239.8 449.5,241.0" stroke="#2585c0" stroke-width="2.4"/>
<polyline points="449.5,241.0 450.1,242.2" stroke="#267aba" stroke-width="2.4"/>
<polyline points="450.1,242.2 450.7,243.3" stroke="#2675b6" stroke-width="2.4"/>
<polyline points="450.7,243.3 451.2,244.5" stroke="#286ab0" stroke-width="2.4"/>
<polyline points="451.2,244.5 451.7,245.7" stroke="#285faa" stroke-width="2.4"/>
<polyline points="451.7,245.7 452.2,246.8" stroke="#295aa6" stroke-width="2.4"/>
<polyline points="452.2,246.8 452.5,248.0 452.7,249.2 452.7,250.3 452.6,251.5 452.5,252.7 452.5,253.8 452.4,255.0" stroke="#2a54a3" stroke-width="2.4"/>
<polyline points="362.0,225.3 364.5,224.6 367.0,224.0 369.5,223.3 372.0,222.6 374.5,222.0 377.0,221.3" stroke="#aed250"/>
<polyline points="377.0,221.3 379.5,220.5 382.0,219.8 384.5,218.9 387.0,218.0 389.5,217.2 392.0,216.5 394.5,216.1 397.0,215.9 399.5,215.9 402.0,215.9" stroke="#b5d44a"/>
<polyline points="402.0,215.9 404.5,216.0 407.0,216.2" stroke="#aed250"/>
<polyline points="407.0,216.2 409.5,216.5 412.0,216.9" stroke="#a6d055"/>
<polyline points="412.0,216.9 414.5,217.4" stroke="#9fce5a"/>
<polyline points="414.5,217.4 417.0,218.0 419.5,218.6" stroke="#98cc60"/>
<polyline points="419.5,218.6 422.0,219.4" stroke="#90cb65"/>
<polyline points="422.0,219.4 424.5,220.3" stroke="#88ca6a"/>
<polyline points="424.5,220.3 427.0,221.4" stroke="#80ca6e"/>
<polyline points="427.0,221.4 429.5,222.7" stroke="#70c878"/>
<polyline points="429.5,222.7 432.0,224.3" stroke="#69c57e"/>
<polygon points="236.0,330.5 232.3,296.6 233.1,295.8 233.8,294.9 234.6,294.1 235.3,293.3 236.1,292.4 237.0,291.5 237.9,290.6 238.9,289.6 239.9,288.6 240.9,287.6 241.9,286.5 243.0,285.5 244.1,284.5 245.3,283.5 246.4,282.4 247.6,281.4 248.8,280.3 250.0,279.3 251.2,278.3 252.3,277.3 253.4,276.3 254.6,275.4 255.8,274.4 257.0,273.3 258.3,272.3 259.6,271.2 261.0,270.1 262.4,269.1 263.7,268.0 265.0,267.0 266.2,266.1 267.4,265.3 268.5,264.5 269.6,263.7 270.8,263.0 272.0,262.2 273.3,261.5 274.6,260.7 276.0,260.0 277.4,259.3 278.7,258.7 280.0,258.0 281.2,257.5 282.4,256.9 283.5,256.4 284.6,255.9 285.8,255.4 287.0,254.9 288.3,254.4 289.6,253.8 291.0,253.3 292.4,252.8 293.7,252.3 295.0,251.8 296.2,251.4 297.4,251.0 298.5,250.6 299.6,250.2 300.8,249.8 302.0,249.4 303.3,249.0 304.5,248.5 305.8,248.1 307.1,247.7 308.5,247.2 310.0,246.6 311.6,246.0 313.2,245.3 314.9,244.6 316.6,243.8 318.3,243.1 320.0,242.3 321.7,241.5 323.3,240.8 325.0,240.0 326.7,239.2 328.3,238.5 330.0,237.8 331.7,237.1 333.3,236.4 335.0,235.7 336.7,235.0 338.3,234.4 340.0,233.7 341.6,233.1 343.1,232.5 344.7,231.9 346.3,231.3 348.0,230.7 350.0,230.1 352.2,229.4 354.6,228.7 357.2,228.0 359.8,227.3 362.4,226.7 365.0,226.0 367.6,225.4 370.3,224.7 372.9,224.0 375.5,223.4 377.9,222.8 380.0,222.2 381.8,221.7 383.2,221.3 384.5,220.9 385.7,220.6 386.8,220.2 388.0,219.9 389.2,219.6 390.3,219.3 391.4,219.1 392.5,218.9 393.7,218.7 395.0,218.5 396.5,218.3 398.1,218.2 399.8,218.1 401.6,218.1 403.3,218.1 405.0,218.1 406.7,218.2 408.3,218.3 410.0,218.4 411.7,218.5 413.3,218.7 415.0,219.0 416.7,219.3 418.4,219.7 420.2,220.1 421.9,220.6 423.5,221.1 425.0,221.7 426.4,222.3 427.6,223.0 428.8,223.7 429.9,224.5 430.9,225.2 432.0,226.0 433.0,226.8 434.0,227.5 435.0,228.3 436.0,229.2 436.9,230.0 437.8,231.0 438.7,232.0 439.6,233.1 440.5,234.3 441.3,235.5 442.2,236.8 443.0,238.0 443.8,239.2 444.6,240.5 445.4,241.8 446.2,243.1 446.9,244.5 447.6,246.0 448.2,247.6 448.8,249.4 449.3,251.2 449.8,253.1 450.4,255.1 451.0,257.0 451.7,258.9 452.5,260.9 453.4,262.9 454.3,265.0 455.1,267.0 456.0,269.0 453.0,275.0" fill="#fbfbfb" stroke="none"/>
<line x1="236" y1="330.5" x2="232.3" y2="296.6" stroke="#28a0cc" stroke-linecap="butt"/>
<polyline points="232.3,296.6 233.1,295.8" stroke="#28a0cc" stroke-width="2.4"/>
<polyline points="233.1,295.8 233.8,294.9 234.6,294.1" stroke="#29a2cb" stroke-width="2.4"/>
<polyline points="234.6,294.1 235.3,293.3 236.1,292.4 237.0,291.5" stroke="#29a3c9" stroke-width="2.4"/>
<polyline points="237.0,291.5 237.9,290.6 238.9,289.6" stroke="#2aa5c8" stroke-width="2.4"/>
<polyline points="238.9,289.6 239.9,288.6 240.9,287.6" stroke="#2ca9c5" stroke-width="2.4"/>
<polyline points="240.9,287.6 241.9,286.5 243.0,285.5" stroke="#2dacc3" stroke-width="2.4"/>
<polyline points="243.0,285.5 244.1,284.5 245.3,283.5" stroke="#2fb0c0" stroke-width="2.4"/>
<polyline points="245.3,283.5 246.4,282.4 247.6,281.4" stroke="#32b1ba" stroke-width="2.4"/>
<polyline points="247.6,281.4 248.8,280.3 250.0,279.3" stroke="#34b2b4" stroke-width="2.4"/>
<polyline points="250.0,279.3 251.2,278.3 252.3,277.3" stroke="#37b4ae" stroke-width="2.4"/>
<polyline points="252.3,277.3 253.4,276.3 254.6,275.4" stroke="#3ab5a8" stroke-width="2.4"/>
<polyline points="254.6,275.4 255.8,274.4 257.0,273.3" stroke="#3fb7a3" stroke-width="2.4"/>
<polyline points="257.0,273.3 258.3,272.3" stroke="#45b89e" stroke-width="2.4"/>
<polyline points="258.3,272.3 259.6,271.2 261.0,270.1" stroke="#4aba9a" stroke-width="2.4"/>
<polyline points="261.0,270.1 262.4,269.1" stroke="#50bb95" stroke-width="2.4"/>
<polyline points="262.4,269.1 263.7,268.0" stroke="#55bd90" stroke-width="2.4"/>
<polyline points="263.7,268.0 265.0,267.0 266.2,266.1" stroke="#5cc08a" stroke-width="2.4"/>
<polyline points="266.2,266.1 267.4,265.3 268.5,264.5" stroke="#62c284" stroke-width="2.4"/>
<polyline points="268.5,264.5 269.6,263.7 270.8,263.0" stroke="#69c57e" stroke-width="2.4"/>
<polyline points="270.8,263.0 272.0,262.2 273.3,261.5 274.6,260.7 276.0,260.0" stroke="#70c878" stroke-width="2.4"/>
<polyline points="276.0,260.0 277.4,259.3 278.7,258.7 280.0,258.0 281.2,257.5" stroke="#78c973" stroke-width="2.4"/>
<polyline points="281.2,257.5 282.4,256.9 283.5,256.4 284.6,255.9 285.8,255.4 287.0,254.9 288.3,254.4 289.6,253.8" stroke="#80ca6e" stroke-width="2.4"/>
<polyline points="289.6,253.8 291.0,253.3 292.4,252.8 293.7,252.3 295.0,251.8 296.2,251.4 297.4,251.0 298.5,250.6 299.6,250.2" stroke="#88ca6a" stroke-width="2.4"/>
<polyline points="299.6,250.2 300.8,249.8 302.0,249.4 303.3,249.0 304.5,248.5 305.8,248.1 307.1,247.7 308.5,247.2 310.0,246.6 311.6,246.0" stroke="#90cb65" stroke-width="2.4"/>
<polyline points="311.6,246.0 313.2,245.3 314.9,244.6 316.6,243.8 318.3,243.1" stroke="#98cc60" stroke-width="2.4"/>
<polyline points="318.3,243.1 320.0,242.3 321.7,241.5 323.3,240.8 325.0,240.0 326.7,239.2 328.3,238.5 330.0,237.8 331.7,237.1 333.3,236.4 335.0,235.7 336.7,235.0 338.3,234.4" stroke="#9fce5a" stroke-width="2.4"/>
<polyline points="338.3,234.4 340.0,233.7 341.6,233.1 343.1,232.5 344.7,231.9 346.3,231.3 348.0,230.7" stroke="#a6d055" stroke-width="2.4"/>
<polyline points="348.0,230.7 350.0,230.1 352.2,229.4 354.6,228.7 357.2,228.0 359.8,227.3 362.4,226.7 365.0,226.0 367.6,225.4 370.3,224.7 372.9,224.0 375.5,223.4" stroke="#aed250" stroke-width="2.4"/>
<polyline points="375.5,223.4 377.9,222.8 380.0,222.2 381.8,221.7 383.2,221.3 384.5,220.9 385.7,220.6 386.8,220.2 388.0,219.9" stroke="#b5d44a" stroke-width="2.4"/>
<polyline points="388.0,219.9 389.2,219.6 390.3,219.3 391.4,219.1" stroke="#b6d44a" stroke-width="2.4"/>
<polyline points="391.4,219.1 392.5,218.9 393.7,218.7" stroke="#b7d549" stroke-width="2.4"/>
<polyline points="393.7,218.7 395.0,218.5 396.5,218.3 398.1,218.2 399.8,218.1 401.6,218.1 403.3,218.1" stroke="#b8d548" stroke-width="2.4"/>
<polyline points="403.3,218.1 405.0,218.1 406.7,218.2 408.3,218.3 410.0,218.4" stroke="#b7d549" stroke-width="2.4"/>
<polyline points="410.0,218.4 411.7,218.5 413.3,218.7" stroke="#b6d44a" stroke-width="2.4"/>
<polyline points="413.3,218.7 415.0,219.0 416.7,219.3" stroke="#b5d44a" stroke-width="2.4"/>
<polyline points="416.7,219.3 418.4,219.7 420.2,220.1" stroke="#aed250" stroke-width="2.4"/>
<polyline points="420.2,220.1 421.9,220.6" stroke="#a6d055" stroke-width="2.4"/>
<polyline points="421.9,220.6 423.5,221.1 425.0,221.7" stroke="#9fce5a" stroke-width="2.4"/>
<polyline points="425.0,221.7 426.4,222.3" stroke="#98cc60" stroke-width="2.4"/>
<polyline points="426.4,222.3 427.6,223.0" stroke="#90cb65" stroke-width="2.4"/>
<polyline points="427.6,223.0 428.8,223.7 429.9,224.5" stroke="#88ca6a" stroke-width="2.4"/>
<polyline points="429.9,224.5 430.9,225.2" stroke="#80ca6e" stroke-width="2.4"/>
<polyline points="430.9,225.2 432.0,226.0" stroke="#78c973" stroke-width="2.4"/>
<polyline points="432.0,226.0 433.0,226.8" stroke="#70c878" stroke-width="2.4"/>
<polyline points="433.0,226.8 434.0,227.5 435.0,228.3" stroke="#69c57e" stroke-width="2.4"/>
<polyline points="435.0,228.3 436.0,229.2" stroke="#62c284" stroke-width="2.4"/>
<polyline points="436.0,229.2 436.9,230.0" stroke="#5cc08a" stroke-width="2.4"/>
<polyline points="436.9,230.0 437.8,231.0" stroke="#55bd90" stroke-width="2.4"/>
<polyline points="437.8,231.0 438.7,232.0" stroke="#50bb95" stroke-width="2.4"/>
<polyline points="438.7,232.0 439.6,233.1" stroke="#4aba9a" stroke-width="2.4"/>
<polyline points="439.6,233.1 440.5,234.3" stroke="#45b89e" stroke-width="2.4"/>
<polyline points="440.5,234.3 441.3,235.5" stroke="#3fb7a3" stroke-width="2.4"/>
<polyline points="441.3,235.5 442.2,236.8" stroke="#3ab5a8" stroke-width="2.4"/>
<polyline points="442.2,236.8 443.0,238.0" stroke="#32b1ba" stroke-width="2.4"/>
<polyline points="443.0,238.0 443.8,239.2" stroke="#2dacc3" stroke-width="2.4"/>
<polyline points="443.8,239.2 444.6,240.5" stroke="#2ca9c5" stroke-width="2.4"/>
<polyline points="444.6,240.5 445.4,241.8" stroke="#2aa5c8" stroke-width="2.4"/>
<polyline points="445.4,241.8 446.2,243.1" stroke="#29a3c9" stroke-width="2.4"/>
<polyline points="446.2,243.1 446.9,244.5" stroke="#3eabd0" stroke-width="2.4"/>
<polyline points="446.9,244.5 447.6,246.0" stroke="#51add3" stroke-width="2.4"/>
<polyline points="447.6,246.0 448.2,247.6" stroke="#51a7d1" stroke-width="2.4"/>
<polyline points="448.2,247.6 448.8,249.4" stroke="#65a8d2" stroke-width="2.4"/>
<polyline points="448.8,249.4 449.3,251.2" stroke="#66a5d0" stroke-width="2.4"/>
<polyline points="449.3,251.2 449.8,253.1" stroke="#7baed4" stroke-width="2.4"/>
<polyline points="449.8,253.1 450.4,255.1 451.0,257.0" stroke="#90bada" stroke-width="2.4"/>
<polyline points="451.0,257.0 451.7,258.9" stroke="#a6c7e1" stroke-width="2.4"/>
<polyline points="451.7,258.9 452.5,260.9 453.4,262.9" stroke="#bbd4e8" stroke-width="2.4"/>
<polyline points="453.4,262.9 454.3,265.0" stroke="#d0e1ee" stroke-width="2.4"/>
<polyline points="454.3,265.0 455.1,267.0" stroke="#e6eef4" stroke-width="2.4"/>
<polyline points="455.1,267.0 456.0,269.0" stroke="#fbfbfb" stroke-width="2.4"/>
<polyline points="366.0,227.2 368.5,226.5 371.0,226.0 373.5,225.4 376.0,224.8 378.5,224.3 381.0,223.6 383.5,223.0 386.0,222.2 388.5,221.6 391.0,221.0" stroke="#b5d44a"/>
<polygon points="241.2,334.5 237.3,298.0 238.2,297.1 239.2,296.2 240.1,295.3 241.0,294.4 242.0,293.4 243.0,292.5 244.1,291.5 245.2,290.5 246.4,289.5 247.6,288.5 248.8,287.5 250.0,286.5 251.2,285.5 252.3,284.5 253.4,283.5 254.6,282.6 255.8,281.6 257.0,280.5 258.3,279.5 259.6,278.3 261.0,277.2 262.4,276.1 263.7,275.1 265.0,274.1 266.2,273.2 267.4,272.3 268.5,271.5 269.6,270.7 270.8,269.9 272.0,269.1 273.3,268.3 274.6,267.4 276.0,266.6 277.4,265.8 278.7,265.0 280.0,264.2 281.2,263.5 282.4,262.8 283.5,262.1 284.6,261.4 285.8,260.8 287.0,260.2 288.3,259.5 289.6,258.8 291.0,258.2 292.4,257.5 293.7,256.9 295.0,256.3 296.2,255.8 297.4,255.3 298.5,254.8 299.6,254.4 300.8,253.9 302.0,253.4 303.3,253.0 304.5,252.5 305.8,252.0 307.1,251.5 308.5,251.0 310.0,250.4 311.6,249.8 313.2,249.1 314.9,248.4 316.6,247.6 318.3,246.8 320.0,246.0 321.7,245.3 323.3,244.5 325.0,243.7 326.7,243.0 328.3,242.3 330.0,241.5 331.7,240.8 333.3,240.1 335.0,239.3 336.7,238.6 338.3,237.9 340.0,237.2 341.6,236.6 343.1,235.9 344.7,235.3 346.3,234.7 348.0,234.1 350.0,233.4 352.2,232.6 354.6,231.9 357.2,231.1 359.8,230.3 362.4,229.6 365.0,228.9 367.6,228.2 370.3,227.6 372.9,227.0 375.5,226.4 377.9,225.9 380.0,225.5 381.8,225.1 383.2,224.7 384.5,224.4 385.7,224.2 386.8,223.9 388.0,223.7 389.2,223.5 390.3,223.3 391.4,223.1 392.5,222.9 393.7,222.7 395.0,222.6 396.5,222.4 398.1,222.2 399.8,222.1 401.6,222.0 403.3,222.0 405.0,222.0 406.7,222.0 408.5,222.1 410.3,222.4 412.0,222.7 413.6,223.0 415.0,223.3 416.1,223.6 416.9,223.8 417.6,224.1 418.2,224.3 419.0,224.6 420.0,225.0 421.3,225.4 422.8,225.9 424.4,226.4 426.0,226.9 427.5,227.4 428.9,228.0 430.1,228.6 431.2,229.1 432.2,229.6 433.1,230.3 434.1,231.0 435.0,231.9 436.0,233.0 436.9,234.3 437.9,235.6 438.8,237.1 439.6,238.5 440.4,239.9 441.1,241.2 441.8,242.6 442.4,244.0 443.0,245.3 443.5,246.6 444.0,247.9 444.4,249.0 444.7,250.0 445.0,251.0 445.2,252.1 445.6,253.4 446.0,255.0 446.6,257.0 447.2,259.4 447.9,262.0 448.6,264.7 449.3,267.4 450.0,270.0 447.0,276.0" fill="#fbfbfb" stroke="none"/>
<line x1="241.2" y1="334.5" x2="237.3" y2="298" stroke="#29a3ca" stroke-linecap="butt"/>
<polyline points="237.3,298.0 238.2,297.1 239.2,296.2" stroke="#29a3c9" stroke-width="2.4"/>
<polyline points="239.2,296.2 240.1,295.3 241.0,294.4" stroke="#2aa5c8" stroke-width="2.4"/>
<polyline points="241.0,294.4 242.0,293.4 243.0,292.5" stroke="#2ca9c5" stroke-width="2.4"/>
<polyline points="243.0,292.5 244.1,291.5 245.2,290.5" stroke="#2dacc3" stroke-width="2.4"/>
<polyline points="245.2,290.5 246.4,289.5 247.6,288.5" stroke="#2fb0c0" stroke-width="2.4"/>
<polyline points="247.6,288.5 248.8,287.5 250.0,286.5" stroke="#32b1ba" stroke-width="2.4"/>
<polyline points="250.0,286.5 251.2,285.5 252.3,284.5 253.4,283.5" stroke="#34b2b4" stroke-width="2.4"/>
<polyline points="253.4,283.5 254.6,282.6 255.8,281.6" stroke="#37b4ae" stroke-width="2.4"/>
<polyline points="255.8,281.6 257.0,280.5" stroke="#3ab5a8" stroke-width="2.4"/>
<polyline points="257.0,280.5 258.3,279.5 259.6,278.3" stroke="#3fb7a3" stroke-width="2.4"/>
<polyline points="259.6,278.3 261.0,277.2" stroke="#45b89e" stroke-width="2.4"/>
<polyline points="261.0,277.2 262.4,276.1" stroke="#4aba9a" stroke-width="2.4"/>
<polyline points="262.4,276.1 263.7,275.1 265.0,274.1" stroke="#50bb95" stroke-width="2.4"/>
<polyline points="265.0,274.1 266.2,273.2 267.4,272.3" stroke="#55bd90" stroke-width="2.4"/>
<polyline points="267.4,272.3 268.5,271.5 269.6,270.7" stroke="#5cc08a" stroke-width="2.4"/>
<polyline points="269.6,270.7 270.8,269.9 272.0,269.1 273.3,268.3" stroke="#62c284" stroke-width="2.4"/>
<polyline points="273.3,268.3 274.6,267.4 276.0,266.6 277.4,265.8" stroke="#69c57e" stroke-width="2.4"/>
<polyline points="277.4,265.8 278.7,265.0 280.0,264.2 281.2,263.5" stroke="#70c878" stroke-width="2.4"/>
<polyline points="281.2,263.5 282.4,262.8 283.5,262.1 284.6,261.4" stroke="#78c973" stroke-width="2.4"/>
<polyline points="284.6,261.4 285.8,260.8 287.0,260.2 288.3,259.5 289.6,258.8 291.0,258.2" stroke="#80ca6e" stroke-width="2.4"/>
<polyline points="291.0,258.2 292.4,257.5 293.7,256.9 295.0,256.3 296.2,255.8 297.4,255.3" stroke="#88ca6a" stroke-width="2.4"/>
<polyline points="297.4,255.3 298.5,254.8 299.6,254.4 300.8,253.9 302.0,253.4 303.3,253.0 304.5,252.5 305.8,252.0 307.1,251.5" stroke="#90cb65" stroke-width="2.4"/>
<polyline points="307.1,251.5 308.5,251.0 310.0,250.4 311.6,249.8 313.2,249.1 314.9,248.4" stroke="#98cc60" stroke-width="2.4"/>
<polyline points="314.9,248.4 316.6,247.6 318.3,246.8 320.0,246.0 321.7,245.3" stroke="#9fce5a" stroke-width="2.4"/>
<polyline points="321.7,245.3 323.3,244.5 325.0,243.7 326.7,243.0 328.3,242.3 330.0,241.5 331.7,240.8 333.3,240.1 335.0,239.3 336.7,238.6 338.3,237.9 340.0,237.2 341.6,236.6" stroke="#a6d055" stroke-width="2.4"/>
<polyline points="341.6,236.6 343.1,235.9 344.7,235.3 346.3,234.7 348.0,234.1 350.0,233.4 352.2,232.6" stroke="#aed250" stroke-width="2.4"/>
<polyline points="352.2,232.6 354.6,231.9 357.2,231.1 359.8,230.3 362.4,229.6 365.0,228.9 367.6,228.2 370.3,227.6 372.9,227.0 375.5,226.4 377.9,225.9 380.0,225.5 381.8,225.1 383.2,224.7 384.5,224.4 385.7,224.2 386.8,223.9" stroke="#b5d44a" stroke-width="2.4"/>
<polyline points="386.8,223.9 388.0,223.7 389.2,223.5 390.3,223.3 391.4,223.1" stroke="#b6d44a" stroke-width="2.4"/>
<polyline points="391.4,223.1 392.5,222.9 393.7,222.7" stroke="#b7d549" stroke-width="2.4"/>
<polyline points="393.7,222.7 395.0,222.6 396.5,222.4 398.1,222.2 399.8,222.1 401.6,222.0 403.3,222.0 405.0,222.0" stroke="#b8d548" stroke-width="2.4"/>
<polyline points="405.0,222.0 406.7,222.0 408.5,222.1 410.3,222.4" stroke="#b7d549" stroke-width="2.4"/>
<polyline points="410.3,222.4 412.0,222.7 413.6,223.0" stroke="#b6d44a" stroke-width="2.4"/>
<polyline points="413.6,223.0 415.0,223.3 416.1,223.6" stroke="#b5d44a" stroke-width="2.4"/>
<polyline points="416.1,223.6 416.9,223.8 417.6,224.1 418.2,224.3" stroke="#aed250" stroke-width="2.4"/>
<polyline points="418.2,224.3 419.0,224.6 420.0,225.0" stroke="#a6d055" stroke-width="2.4"/>
<polyline points="420.0,225.0 421.3,225.4 422.8,225.9" stroke="#9fce5a" stroke-width="2.4"/>
<polyline points="422.8,225.9 424.4,226.4 426.0,226.9" stroke="#98cc60" stroke-width="2.4"/>
<polyline points="426.0,226.9 427.5,227.4" stroke="#90cb65" stroke-width="2.4"/>
<polyline points="427.5,227.4 428.9,228.0 430.1,228.6" stroke="#88ca6a" stroke-width="2.4"/>
<polyline points="430.1,228.6 431.2,229.1" stroke="#80ca6e" stroke-width="2.4"/>
<polyline points="431.2,229.1 432.2,229.6 433.1,230.3" stroke="#78c973" stroke-width="2.4"/>
<polyline points="433.1,230.3 434.1,231.0" stroke="#70c878" stroke-width="2.4"/>
<polyline points="434.1,231.0 435.0,231.9" stroke="#69c57e" stroke-width="2.4"/>
<polyline points="435.0,231.9 436.0,233.0" stroke="#62c284" stroke-width="2.4"/>
<polyline points="436.0,233.0 436.9,234.3" stroke="#5cc08a" stroke-width="2.4"/>
<polyline points="436.9,234.3 437.9,235.6" stroke="#55bd90" stroke-width="2.4"/>
<polyline points="437.9,235.6 438.8,237.1" stroke="#50bb95" stroke-width="2.4"/>
<polyline points="438.8,237.1 439.6,238.5" stroke="#45b89e" stroke-width="2.4"/>
<polyline points="439.6,238.5 440.4,239.9" stroke="#3fb7a3" stroke-width="2.4"/>
<polyline points="440.4,239.9 441.1,241.2" stroke="#3ab5a8" stroke-width="2.4"/>
<polyline points="441.1,241.2 441.8,242.6" stroke="#32b1ba" stroke-width="2.4"/>
<polyline points="441.8,242.6 442.4,244.0" stroke="#42b4c9" stroke-width="2.4"/>
<polyline points="442.4,244.0 443.0,245.3" stroke="#41b1ca" stroke-width="2.4"/>
<polyline points="443.0,245.3 443.5,246.6" stroke="#54b6d2" stroke-width="2.4"/>
<polyline points="443.5,246.6 444.0,247.9" stroke="#53b5d3" stroke-width="2.4"/>
<polyline points="444.0,247.9 444.4,249.0" stroke="#68bdd9" stroke-width="2.4"/>
<polyline points="444.4,249.0 444.7,250.0" stroke="#67bbda" stroke-width="2.4"/>
<polyline points="444.7,250.0 445.0,251.0" stroke="#67b6d8" stroke-width="2.4"/>
<polyline points="445.0,251.0 445.2,252.1 445.6,253.4" stroke="#7bbcdb" stroke-width="2.4"/>
<polyline points="445.6,253.4 446.0,255.0 446.6,257.0" stroke="#90c6e0" stroke-width="2.4"/>
<polyline points="446.6,257.0 447.2,259.4" stroke="#a6d1e6" stroke-width="2.4"/>
<polyline points="447.2,259.4 447.9,262.0" stroke="#bbdceb" stroke-width="2.4"/>
<polyline points="447.9,262.0 448.6,264.7" stroke="#d0e6f0" stroke-width="2.4"/>
<polyline points="448.6,264.7 449.3,267.4" stroke="#e6f0f6" stroke-width="2.4"/>
<polyline points="449.3,267.4 450.0,270.0" stroke="#fbfbfb" stroke-width="2.4"/>
<polygon points="246.5,339.0 242.7,302.3 243.9,301.1 245.1,299.8 246.4,298.6 247.6,297.4 248.8,296.2 250.0,295.0 251.2,293.9 252.3,292.8 253.5,291.7 254.6,290.7 255.8,289.6 257.0,288.5 258.3,287.4 259.6,286.3 261.0,285.1 262.4,284.0 263.7,282.9 265.0,281.8 266.2,280.8 267.4,279.9 268.5,279.0 269.6,278.2 270.8,277.3 272.0,276.4 273.3,275.4 274.6,274.5 276.0,273.5 277.4,272.6 278.7,271.7 280.0,270.8 281.2,270.0 282.4,269.2 283.5,268.4 284.6,267.6 285.8,266.9 287.0,266.2 288.3,265.4 289.6,264.7 291.0,263.9 292.4,263.2 293.7,262.5 295.0,261.8 296.2,261.1 297.4,260.5 298.5,259.9 299.6,259.3 300.8,258.7 302.0,258.1 303.3,257.5 304.5,257.0 305.8,256.4 307.1,255.8 308.5,255.2 310.0,254.5 311.6,253.8 313.2,253.1 314.9,252.3 316.6,251.4 318.3,250.6 320.0,249.9 321.7,249.1 323.3,248.3 325.0,247.6 326.7,246.9 328.3,246.1 330.0,245.4 331.7,244.6 333.3,243.9 335.0,243.1 336.7,242.3 338.3,241.6 340.0,240.9 341.6,240.2 343.1,239.5 344.7,238.9 346.3,238.2 348.0,237.6 350.0,236.9 352.2,236.1 354.6,235.3 357.2,234.4 359.8,233.6 362.4,232.8 365.0,232.1 367.6,231.4 370.3,230.7 372.9,230.1 375.5,229.5 377.9,229.0 380.0,228.6 381.8,228.4 383.2,228.1 384.5,228.0 385.7,227.8 386.8,227.7 388.0,227.6 389.2,227.5 390.3,227.4 391.4,227.3 392.5,227.2 393.7,227.2 395.0,227.1 396.5,227.0 398.1,227.0 399.8,227.0 401.6,227.0 403.3,227.1 405.0,227.2 406.7,227.4 408.5,227.6 410.3,227.9 412.0,228.3 413.6,228.7 415.0,229.0 416.1,229.3 417.0,229.5 417.7,229.7 418.4,229.9 419.1,230.1 420.0,230.5 421.1,230.9 422.2,231.4 423.4,231.9 424.6,232.4 425.8,233.2 427.0,234.0 428.2,235.0 429.5,236.3 430.7,237.6 431.9,239.0 433.0,240.4 434.0,241.7 434.8,242.9 435.6,244.1 436.2,245.2 436.8,246.4 437.3,247.6 437.8,248.8 438.2,250.1 438.6,251.4 439.0,252.8 439.3,254.2 439.6,255.6 440.0,257.0 440.5,258.5 441.0,260.0 441.5,261.6 442.0,263.2 442.5,264.6 443.0,266.0 443.4,267.2 443.8,268.4 444.2,269.4 444.6,270.4 444.9,271.4 445.3,272.5 448.0,275.0 451.5,277.7 455.5,280.5 452.5,286.5" fill="#fbfbfb" stroke="none"/>
<line x1="246.5" y1="339" x2="242.7" y2="302.3" stroke="#29a3ca" stroke-linecap="butt"/>
<polyline points="242.7,302.3 243.9,301.1 245.1,299.8" stroke="#29a3c9" stroke-width="2.4"/>
<polyline points="245.1,299.8 246.4,298.6" stroke="#2aa5c8" stroke-width="2.4"/>
<polyline points="246.4,298.6 247.6,297.4 248.8,296.2" stroke="#2ca9c5" stroke-width="2.4"/>
<polyline points="248.8,296.2 250.0,295.0 251.2,293.9" stroke="#2dacc3" stroke-width="2.4"/>
<polyline points="251.2,293.9 252.3,292.8 253.5,291.7" stroke="#2fb0c0" stroke-width="2.4"/>
<polyline points="253.5,291.7 254.6,290.7 255.8,289.6" stroke="#32b1ba" stroke-width="2.4"/>
<polyline points="255.8,289.6 257.0,288.5 258.3,287.4" stroke="#34b2b4" stroke-width="2.4"/>
<polyline points="258.3,287.4 259.6,286.3" stroke="#37b4ae" stroke-width="2.4"/>
<polyline points="259.6,286.3 261.0,285.1 262.4,284.0" stroke="#3ab5a8" stroke-width="2.4"/>
<polyline points="262.4,284.0 263.7,282.9 265.0,281.8" stroke="#3fb7a3" stroke-width="2.4"/>
<polyline points="265.0,281.8 266.2,280.8 267.4,279.9 268.5,279.0" stroke="#45b89e" stroke-width="2.4"/>
<polyline points="268.5,279.0 269.6,278.2 270.8,277.3" stroke="#4aba9a" stroke-width="2.4"/>
<polyline points="270.8,277.3 272.0,276.4 273.3,275.4 274.6,274.5" stroke="#50bb95" stroke-width="2.4"/>
<polyline points="274.6,274.5 276.0,273.5 277.4,272.6" stroke="#55bd90" stroke-width="2.4"/>
<polyline points="277.4,272.6 278.7,271.7 280.0,270.8 281.2,270.0" stroke="#5cc08a" stroke-width="2.4"/>
<polyline points="281.2,270.0 282.4,269.2 283.5,268.4 284.6,267.6" stroke="#62c284" stroke-width="2.4"/>
<polyline points="284.6,267.6 285.8,266.9 287.0,266.2 288.3,265.4" stroke="#69c57e" stroke-width="2.4"/>
<polyline points="288.3,265.4 289.6,264.7 291.0,263.9 292.4,263.2 293.7,262.5" stroke="#70c878" stroke-width="2.4"/>
<polyline points="293.7,262.5 295.0,261.8 296.2,261.1 297.4,260.5 298.5,259.9" stroke="#78c973" stroke-width="2.4"/>
<polyline points="298.5,259.9 299.6,259.3 300.8,258.7 302.0,258.1 303.3,257.5 304.5,257.0" stroke="#80ca6e" stroke-width="2.4"/>
<polyline points="304.5,257.0 305.8,256.4 307.1,255.8 308.5,255.2 310.0,254.5 311.6,253.8" stroke="#88ca6a" stroke-width="2.4"/>
<polyline points="311.6,253.8 313.2,253.1 314.9,252.3 316.6,251.4 318.3,250.6" stroke="#90cb65" stroke-width="2.4"/>
<polyline points="318.3,250.6 320.0,249.9 321.7,249.1 323.3,248.3 325.0,247.6" stroke="#98cc60" stroke-width="2.4"/>
<polyline points="325.0,247.6 326.7,246.9 328.3,246.1 330.0,245.4 331.7,244.6" stroke="#9fce5a" stroke-width="2.4"/>
<polyline points="331.7,244.6 333.3,243.9 335.0,243.1 336.7,242.3 338.3,241.6" stroke="#a6d055" stroke-width="2.4"/>
<polyline points="338.3,241.6 340.0,240.9 341.6,240.2 343.1,239.5 344.7,238.9" stroke="#aed250" stroke-width="2.4"/>
<polyline points="344.7,238.9 346.3,238.2 348.0,237.6 350.0,236.9 352.2,236.1 354.6,235.3 357.2,234.4" stroke="#b5d44a" stroke-width="2.4"/>
<polyline points="357.2,234.4 359.8,233.6 362.4,232.8 365.0,232.1 367.6,231.4 370.3,230.7 372.9,230.1 375.5,229.5 377.9,229.0 380.0,228.6 381.8,228.4 383.2,228.1 384.5,228.0 385.7,227.8 386.8,227.7 388.0,227.6 389.2,227.5 390.3,227.4" stroke="#b6d44a" stroke-width="2.4"/>
<polyline points="390.3,227.4 391.4,227.3 392.5,227.2 393.7,227.2 395.0,227.1" stroke="#b7d549" stroke-width="2.4"/>
<polyline points="395.0,227.1 396.5,227.0 398.1,227.0 399.8,227.0 401.6,227.0" stroke="#b8d548" stroke-width="2.4"/>
<polyline points="401.6,227.0 403.3,227.1 405.0,227.2 406.7,227.4" stroke="#b7d549" stroke-width="2.4"/>
<polyline points="406.7,227.4 408.5,227.6 410.3,227.9" stroke="#b6d44a" stroke-width="2.4"/>
<polyline points="410.3,227.9 412.0,228.3 413.6,228.7" stroke="#b5d44a" stroke-width="2.4"/>
<polyline points="413.6,228.7 415.0,229.0 416.1,229.3" stroke="#aed250" stroke-width="2.4"/>
<polyline points="416.1,229.3 417.0,229.5 417.7,229.7 418.4,229.9" stroke="#a6d055" stroke-width="2.4"/>
<polyline points="418.4,229.9 419.1,230.1 420.0,230.5 421.1,230.9" stroke="#9fce5a" stroke-width="2.4"/>
<polyline points="421.1,230.9 422.2,231.4 423.4,231.9" stroke="#98cc60" stroke-width="2.4"/>
<polyline points="423.4,231.9 424.6,232.4" stroke="#90cb65" stroke-width="2.4"/>
<polyline points="424.6,232.4 425.8,233.2" stroke="#88ca6a" stroke-width="2.4"/>
<polyline points="425.8,233.2 427.0,234.0" stroke="#80ca6e" stroke-width="2.4"/>
<polyline points="427.0,234.0 428.2,235.0" stroke="#78c973" stroke-width="2.4"/>
<polyline points="428.2,235.0 429.5,236.3" stroke="#70c878" stroke-width="2.4"/>
<polyline points="429.5,236.3 430.7,237.6" stroke="#69c57e" stroke-width="2.4"/>
<polyline points="430.7,237.6 431.9,239.0" stroke="#62c284" stroke-width="2.4"/>
<polyline points="431.9,239.0 433.0,240.4" stroke="#55bd90" stroke-width="2.4"/>
<polyline points="433.0,240.4 434.0,241.7" stroke="#50bb95" stroke-width="2.4"/>
<polyline points="434.0,241.7 434.8,242.9" stroke="#4aba9a" stroke-width="2.4"/>
<polyline points="434.8,242.9 435.6,244.1" stroke="#45b89e" stroke-width="2.4"/>
<polyline points="435.6,244.1 436.2,245.2" stroke="#3fb7a3" stroke-width="2.4"/>
<polyline points="436.2,245.2 436.8,246.4" stroke="#3ab5a8" stroke-width="2.4"/>
<polyline points="436.8,246.4 437.3,247.6" stroke="#37b4ae" stroke-width="2.4"/>
<polyline points="437.3,247.6 437.8,248.8" stroke="#32b1ba" stroke-width="2.4"/>
<polyline points="437.8,248.8 438.2,250.1" stroke="#2dacc3" stroke-width="2.4"/>
<polyline points="438.2,250.1 438.6,251.4" stroke="#2ca9c5" stroke-width="2.4"/>
<polyline points="438.6,251.4 439.0,252.8" stroke="#29a3c9" stroke-width="2.4"/>
<polyline points="439.0,252.8 439.3,254.2" stroke="#29a2cb" stroke-width="2.4"/>
<polyline points="439.3,254.2 439.6,255.6" stroke="#28a0cc" stroke-width="2.4"/>
<polyline points="439.6,255.6 440.0,257.0" stroke="#2799c9" stroke-width="2.4"/>
<polyline points="440.0,257.0 440.5,258.5" stroke="#2692c6" stroke-width="2.4"/>
<polyline points="440.5,258.5 441.0,260.0" stroke="#268cc3" stroke-width="2.4"/>
<polyline points="441.0,260.0 441.5,261.6" stroke="#2680bd" stroke-width="2.4"/>
<polyline points="441.5,261.6 442.0,263.2" stroke="#267aba" stroke-width="2.4"/>
<polyline points="442.0,263.2 442.5,264.6" stroke="#2675b6" stroke-width="2.4"/>
<polyline points="442.5,264.6 443.0,266.0" stroke="#286ab0" stroke-width="2.4"/>
<polyline points="443.0,266.0 443.4,267.2" stroke="#2865ad" stroke-width="2.4"/>
<polyline points="443.4,267.2 443.8,268.4" stroke="#285faa" stroke-width="2.4"/>
<polyline points="443.8,268.4 444.2,269.4" stroke="#295aa6" stroke-width="2.4"/>
<polyline points="444.2,269.4 444.6,270.4" stroke="#2a54a3" stroke-width="2.4"/>
<polyline points="444.6,270.4 444.9,271.4 445.3,272.5" stroke="#2a4fa0" stroke-width="2.4"/>
<polyline points="445.3,272.5 448.0,275.0" stroke="#3868b4" stroke-width="2.4"/>
<polyline points="448.0,275.0 451.5,277.7" stroke="#99bfdf" stroke-width="2.4"/>
<polyline points="451.5,277.7 455.5,280.5" stroke="#eef5f9" stroke-width="2.4"/>
<polygon points="252.0,343.0 248.1,306.2 248.7,305.6 249.3,305.0 249.9,304.4 250.5,303.7 251.2,303.1 252.0,302.3 252.9,301.4 253.8,300.5 254.8,299.5 255.8,298.5 256.9,297.5 258.0,296.5 259.1,295.5 260.3,294.5 261.4,293.4 262.6,292.4 263.8,291.3 265.0,290.3 266.2,289.3 267.3,288.3 268.4,287.3 269.6,286.4 270.8,285.4 272.0,284.3 273.3,283.3 274.6,282.2 276.0,281.1 277.4,280.1 278.7,279.0 280.0,278.0 281.2,277.1 282.4,276.2 283.5,275.4 284.6,274.6 285.8,273.7 287.0,272.9 288.3,272.0 289.6,271.2 291.0,270.3 292.4,269.4 293.7,268.6 295.0,267.8 296.2,267.0 297.4,266.3 298.5,265.6 299.6,264.9 300.8,264.2 302.0,263.5 303.3,262.8 304.5,262.1 305.8,261.4 307.1,260.7 308.5,260.0 310.0,259.2 311.6,258.4 313.2,257.5 314.9,256.7 316.6,255.8 318.3,254.9 320.0,254.1 321.7,253.3 323.3,252.5 325.0,251.7 326.7,250.9 328.3,250.1 330.0,249.4 331.7,248.6 333.3,247.8 335.0,247.0 336.7,246.2 338.3,245.4 340.0,244.7 341.6,243.9 343.1,243.3 344.7,242.6 346.3,242.0 348.0,241.3 350.0,240.6 352.2,239.8 354.6,239.0 357.2,238.2 359.8,237.5 362.4,236.8 365.0,236.2 367.6,235.6 370.3,235.2 372.9,234.8 375.5,234.4 377.9,234.0 380.0,233.7 381.8,233.5 383.2,233.3 384.5,233.1 385.7,232.9 386.8,232.7 388.0,232.6 389.2,232.4 390.3,232.3 391.4,232.2 392.5,232.2 393.7,232.1 395.0,232.1 396.5,232.2 398.1,232.3 399.8,232.5 401.6,232.8 403.3,233.1 405.0,233.6 406.7,234.0 408.5,234.5 410.3,235.2 412.0,235.9 413.6,236.7 415.0,237.3 416.1,237.8 417.0,238.2 417.8,238.6 418.5,239.0 419.2,239.5 420.0,240.0 420.9,240.6 421.7,241.2 422.6,241.8 423.4,242.5 424.4,243.4 425.3,244.3 426.3,245.4 427.4,246.8 428.6,248.2 429.7,249.7 430.7,251.1 431.6,252.3 432.3,253.4 432.9,254.3 433.5,255.2 434.0,256.1 434.5,257.0 435.0,258.0 435.6,259.1 436.2,260.2 436.8,261.4 437.4,262.5 438.0,263.8 438.5,265.0 439.0,266.2 439.4,267.5 439.8,268.8 440.2,270.1 440.6,271.5 441.0,273.0 441.5,274.8 442.1,276.7 442.6,278.8 443.2,280.8 443.6,282.6 444.0,284.0 444.2,285.0 444.4,285.6 444.4,286.0 444.4,286.3 444.4,286.6 444.5,287.0 441.5,293.0" fill="#fbfbfb" stroke="none"/>
<line x1="252" y1="343" x2="248.1" y2="306.2" stroke="#29a3ca" stroke-linecap="butt"/>
<polyline points="248.1,306.2 248.7,305.6 249.3,305.0 249.9,304.4" stroke="#29a3c9" stroke-width="2.4"/>
<polyline points="249.9,304.4 250.5,303.7 251.2,303.1 252.0,302.3" stroke="#2aa5c8" stroke-width="2.4"/>
<polyline points="252.0,302.3 252.9,301.4 253.8,300.5" stroke="#2ca9c5" stroke-width="2.4"/>
<polyline points="253.8,300.5 254.8,299.5 255.8,298.5" stroke="#2dacc3" stroke-width="2.4"/>
<polyline points="255.8,298.5 256.9,297.5 258.0,296.5" stroke="#2fb0c0" stroke-width="2.4"/>
<polyline points="258.0,296.5 259.1,295.5 260.3,294.5" stroke="#32b1ba" stroke-width="2.4"/>
<polyline points="260.3,294.5 261.4,293.4 262.6,292.4 263.8,291.3" stroke="#34b2b4" stroke-width="2.4"/>
<polyline points="263.8,291.3 265.0,290.3 266.2,289.3" stroke="#37b4ae" stroke-width="2.4"/>
<polyline points="266.2,289.3 267.3,288.3 268.4,287.3" stroke="#3ab5a8" stroke-width="2.4"/>
<polyline points="268.4,287.3 269.6,286.4 270.8,285.4" stroke="#3fb7a3" stroke-width="2.4"/>
<polyline points="270.8,285.4 272.0,284.3 273.3,283.3" stroke="#45b89e" stroke-width="2.4"/>
<polyline points="273.3,283.3 274.6,282.2 276.0,281.1" stroke="#4aba9a" stroke-width="2.4"/>
<polyline points="276.0,281.1 277.4,280.1 278.7,279.0" stroke="#50bb95" stroke-width="2.4"/>
<polyline points="278.7,279.0 280.0,278.0 281.2,277.1 282.4,276.2" stroke="#55bd90" stroke-width="2.4"/>
<polyline points="282.4,276.2 283.5,275.4 284.6,274.6 285.8,273.7" stroke="#5cc08a" stroke-width="2.4"/>
<polyline points="285.8,273.7 287.0,272.9 288.3,272.0" stroke="#62c284" stroke-width="2.4"/>
<polyline points="288.3,272.0 289.6,271.2 291.0,270.3 292.4,269.4" stroke="#69c57e" stroke-width="2.4"/>
<polyline points="292.4,269.4 293.7,268.6 295.0,267.8 296.2,267.0" stroke="#70c878" stroke-width="2.4"/>
<polyline points="296.2,267.0 297.4,266.3 298.5,265.6 299.6,264.9 300.8,264.2" stroke="#78c973" stroke-width="2.4"/>
<polyline points="300.8,264.2 302.0,263.5 303.3,262.8 304.5,262.1 305.8,261.4" stroke="#80ca6e" stroke-width="2.4"/>
<polyline points="305.8,261.4 307.1,260.7 308.5,260.0 310.0,259.2" stroke="#88ca6a" stroke-width="2.4"/>
<polyline points="310.0,259.2 311.6,258.4 313.2,257.5 314.9,256.7 316.6,255.8" stroke="#90cb65" stroke-width="2.4"/>
<polyline points="316.6,255.8 318.3,254.9 320.0,254.1 321.7,253.3" stroke="#98cc60" stroke-width="2.4"/>
<polyline points="321.7,253.3 323.3,252.5 325.0,251.7 326.7,250.9 328.3,250.1" stroke="#9fce5a" stroke-width="2.4"/>
<polyline points="328.3,250.1 330.0,249.4 331.7,248.6 333.3,247.8 335.0,247.0" stroke="#a6d055" stroke-width="2.4"/>
<polyline points="335.0,247.0 336.7,246.2 338.3,245.4 340.0,244.7 341.6,243.9" stroke="#aed250" stroke-width="2.4"/>
<polyline points="341.6,243.9 343.1,243.3 344.7,242.6 346.3,242.0 348.0,241.3 350.0,240.6" stroke="#b5d44a" stroke-width="2.4"/>
<polyline points="350.0,240.6 352.2,239.8 354.6,239.0 357.2,238.2 359.8,237.5 362.4,236.8 365.0,236.2 367.6,235.6 370.3,235.2 372.9,234.8 375.5,234.4 377.9,234.0 380.0,233.7 381.8,233.5 383.2,233.3" stroke="#b6d44a" stroke-width="2.4"/>
<polyline points="383.2,233.3 384.5,233.1 385.7,232.9 386.8,232.7 388.0,232.6 389.2,232.4 390.3,232.3 391.4,232.2 392.5,232.2 393.7,232.1 395.0,232.1" stroke="#b5d44a" stroke-width="2.4"/>
<polyline points="395.0,232.1 396.5,232.2 398.1,232.3 399.8,232.5" stroke="#aed250" stroke-width="2.4"/>
<polyline points="399.8,232.5 401.6,232.8 403.3,233.1" stroke="#a6d055" stroke-width="2.4"/>
<polyline points="403.3,233.1 405.0,233.6 406.7,234.0" stroke="#9fce5a" stroke-width="2.4"/>
<polyline points="406.7,234.0 408.5,234.5" stroke="#98cc60" stroke-width="2.4"/>
<polyline points="408.5,234.5 410.3,235.2 412.0,235.9" stroke="#90cb65" stroke-width="2.4"/>
<polyline points="412.0,235.9 413.6,236.7" stroke="#88ca6a" stroke-width="2.4"/>
<polyline points="413.6,236.7 415.0,237.3 416.1,237.8" stroke="#80ca6e" stroke-width="2.4"/>
<polyline points="416.1,237.8 417.0,238.2 417.8,238.6" stroke="#78c973" stroke-width="2.4"/>
<polyline points="417.8,238.6 418.5,239.0 419.2,239.5" stroke="#70c878" stroke-width="2.4"/>
<polyline points="419.2,239.5 420.0,240.0 420.9,240.6" stroke="#69c57e" stroke-width="2.4"/>
<polyline points="420.9,240.6 421.7,241.2 422.6,241.8" stroke="#62c284" stroke-width="2.4"/>
<polyline points="422.6,241.8 423.4,242.5" stroke="#5cc08a" stroke-width="2.4"/>
<polyline points="423.4,242.5 424.4,243.4 425.3,244.3" stroke="#55bd90" stroke-width="2.4"/>
<polyline points="425.3,244.3 426.3,245.4" stroke="#50bb95" stroke-width="2.4"/>
<polyline points="426.3,245.4 427.4,246.8" stroke="#4aba9a" stroke-width="2.4"/>
<polyline points="427.4,246.8 428.6,248.2" stroke="#3fb7a3" stroke-width="2.4"/>
<polyline points="428.6,248.2 429.7,249.7" stroke="#3ab5a8" stroke-width="2.4"/>
<polyline points="429.7,249.7 430.7,251.1" stroke="#37b4ae" stroke-width="2.4"/>
<polyline points="430.7,251.1 431.6,252.3" stroke="#34b2b4" stroke-width="2.4"/>
<polyline points="431.6,252.3 432.3,253.4" stroke="#32b1ba" stroke-width="2.4"/>
<polyline points="432.3,253.4 432.9,254.3" stroke="#2fb0c0" stroke-width="2.4"/>
<polyline points="432.9,254.3 433.5,255.2" stroke="#2dacc3" stroke-width="2.4"/>
<polyline points="433.5,255.2 434.0,256.1" stroke="#2ca9c5" stroke-width="2.4"/>
<polyline points="434.0,256.1 434.5,257.0" stroke="#2aa5c8" stroke-width="2.4"/>
<polyline points="434.5,257.0 435.0,258.0" stroke="#3faecd" stroke-width="2.4"/>
<polyline points="435.0,258.0 435.6,259.1" stroke="#3eacce" stroke-width="2.4"/>
<polyline points="435.6,259.1 436.2,260.2" stroke="#53b4d5" stroke-width="2.4"/>
<polyline points="436.2,260.2 436.8,261.4" stroke="#52b2d5" stroke-width="2.4"/>
<polyline points="436.8,261.4 437.4,262.5" stroke="#51add3" stroke-width="2.4"/>
<polyline points="437.4,262.5 438.0,263.8 438.5,265.0 439.0,266.2" stroke="#66b2d6" stroke-width="2.4"/>
<polyline points="439.0,266.2 439.4,267.5 439.8,268.8" stroke="#7bbcdb" stroke-width="2.4"/>
<polyline points="439.8,268.8 440.2,270.1 440.6,271.5" stroke="#90c6e0" stroke-width="2.4"/>
<polyline points="440.6,271.5 441.0,273.0 441.5,274.8" stroke="#a6d1e6" stroke-width="2.4"/>
<polyline points="441.5,274.8 442.1,276.7 442.6,278.8" stroke="#bbdceb" stroke-width="2.4"/>
<polyline points="442.6,278.8 443.2,280.8 443.6,282.6" stroke="#d0e6f0" stroke-width="2.4"/>
<polyline points="443.6,282.6 444.0,284.0 444.2,285.0 444.4,285.6" stroke="#e6f0f6" stroke-width="2.4"/>
<polyline points="444.4,285.6 444.4,286.0 444.4,286.3 444.4,286.6 444.5,287.0" stroke="#fbfbfb" stroke-width="2.4"/>
<polygon points="257.5,347.5 253.9,308.9 254.5,308.2 255.2,307.6 255.8,307.0 256.4,306.3 257.1,305.6 258.0,304.8 259.0,303.9 260.1,302.9 261.3,301.8 262.6,300.7 263.8,299.6 265.0,298.5 266.2,297.4 267.3,296.4 268.4,295.3 269.6,294.2 270.8,293.1 272.0,292.0 273.3,290.9 274.6,289.8 276.0,288.6 277.4,287.4 278.7,286.3 280.0,285.2 281.2,284.2 282.4,283.2 283.5,282.3 284.6,281.4 285.8,280.5 287.0,279.6 288.3,278.7 289.6,277.7 291.0,276.7 292.4,275.8 293.7,274.9 295.0,274.0 296.2,273.1 297.4,272.3 298.5,271.5 299.6,270.7 300.8,269.9 302.0,269.1 303.3,268.2 304.5,267.4 305.8,266.6 307.1,265.8 308.5,264.9 310.0,264.1 311.6,263.2 313.2,262.2 314.9,261.3 316.6,260.4 318.3,259.4 320.0,258.6 321.7,257.7 323.3,256.9 325.0,256.0 326.7,255.2 328.3,254.4 330.0,253.6 331.7,252.7 333.3,251.9 335.0,251.0 336.7,250.2 338.3,249.4 340.0,248.6 341.6,247.8 343.1,247.1 344.7,246.5 346.3,245.8 348.0,245.2 350.0,244.6 352.2,243.9 354.6,243.2 357.2,242.6 359.8,242.1 362.4,241.6 365.0,241.2 367.6,240.9 370.4,240.7 373.1,240.5 375.7,240.3 378.1,240.2 380.0,240.0 381.4,239.9 382.2,239.9 382.8,239.8 383.3,239.8 384.0,239.7 385.0,239.7 386.4,239.6 388.0,239.6 389.7,239.6 391.5,239.6 393.3,239.7 395.0,239.9 396.7,240.1 398.3,240.4 400.0,240.8 401.7,241.3 403.3,241.8 405.0,242.4 406.7,243.0 408.5,243.6 410.3,244.4 412.0,245.1 413.6,245.9 415.0,246.5 416.1,247.0 417.1,247.3 417.9,247.6 418.6,248.0 419.3,248.4 420.0,249.0 420.7,249.8 421.4,250.7 422.1,251.7 422.7,252.8 423.3,253.9 424.0,255.0 424.7,256.1 425.4,257.1 426.1,258.2 426.7,259.3 427.4,260.6 428.0,262.0 428.6,263.6 429.1,265.4 429.6,267.3 430.1,269.3 430.5,271.2 431.0,273.0 431.5,274.8 431.9,276.6 432.4,278.3 432.8,280.0 433.2,281.6 433.5,283.0 433.8,284.2 433.9,285.2 434.1,286.0 434.2,286.8 434.4,287.6 434.5,288.5 437.0,290.5 440.0,292.2 444.0,294.0 441.0,300.0" fill="#fbfbfb" stroke="none"/>
<line x1="257.5" y1="347.5" x2="253.9" y2="308.9" stroke="#2aa4c9" stroke-linecap="butt"/>
<polyline points="253.9,308.9 254.5,308.2 255.2,307.6 255.8,307.0" stroke="#2aa5c8"/>
<polyline points="255.8,307.0 256.4,306.3 257.1,305.6 258.0,304.8" stroke="#2ca9c5"/>
<polyline points="258.0,304.8 259.0,303.9 260.1,302.9" stroke="#2dacc3"/>
<polyline points="260.1,302.9 261.3,301.8 262.6,300.7" stroke="#2fb0c0"/>
<polyline points="262.6,300.7 263.8,299.6 265.0,298.5" stroke="#32b1ba"/>
<polyline points="265.0,298.5 266.2,297.4 267.3,296.4" stroke="#34b2b4"/>
<polyline points="267.3,296.4 268.4,295.3 269.6,294.2" stroke="#37b4ae"/>
<polyline points="269.6,294.2 270.8,293.1 272.0,292.0" stroke="#3ab5a8"/>
<polyline points="272.0,292.0 273.3,290.9 274.6,289.8" stroke="#3fb7a3"/>
<polyline points="274.6,289.8 276.0,288.6 277.4,287.4" stroke="#45b89e"/>
<polyline points="277.4,287.4 278.7,286.3 280.0,285.2" stroke="#4aba9a"/>
<polyline points="280.0,285.2 281.2,284.2 282.4,283.2" stroke="#50bb95"/>
<polyline points="282.4,283.2 283.5,282.3 284.6,281.4 285.8,280.5" stroke="#55bd90"/>
<polyline points="285.8,280.5 287.0,279.6 288.3,278.7" stroke="#5cc08a"/>
<polyline points="288.3,278.7 289.6,277.7 291.0,276.7 292.4,275.8" stroke="#62c284"/>
<polyline points="292.4,275.8 293.7,274.9 295.0,274.0" stroke="#69c57e"/>
<polyline points="295.0,274.0 296.2,273.1 297.4,272.3 298.5,271.5" stroke="#70c878"/>
<polyline points="298.5,271.5 299.6,270.7 300.8,269.9 302.0,269.1" stroke="#78c973"/>
<polyline points="302.0,269.1 303.3,268.2 304.5,267.4 305.8,266.6" stroke="#80ca6e"/>
<polyline points="305.8,266.6 307.1,265.8 308.5,264.9 310.0,264.1" stroke="#88ca6a"/>
<polyline points="310.0,264.1 311.6,263.2 313.2,262.2 314.9,261.3" stroke="#90cb65"/>
<polyline points="314.9,261.3 316.6,260.4 318.3,259.4 320.0,258.6" stroke="#98cc60"/>
<polyline points="320.0,258.6 321.7,257.7 323.3,256.9 325.0,256.0 326.7,255.2" stroke="#9fce5a"/>
<polyline points="326.7,255.2 328.3,254.4 330.0,253.6 331.7,252.7" stroke="#a6d055"/>
<polyline points="331.7,252.7 333.3,251.9 335.0,251.0 336.7,250.2" stroke="#aed250"/>
<polyline points="336.7,250.2 338.3,249.4 340.0,248.6 341.6,247.8 343.1,247.1 344.7,246.5" stroke="#b5d44a"/>
<polyline points="344.7,246.5 346.3,245.8 348.0,245.2 350.0,244.6 352.2,243.9 354.6,243.2 357.2,242.6 359.8,242.1 362.4,241.6 365.0,241.2 367.6,240.9 370.4,240.7" stroke="#b6d44a"/>
<polyline points="370.4,240.7 373.1,240.5 375.7,240.3 378.1,240.2 380.0,240.0" stroke="#b5d44a"/>
<polyline points="380.0,240.0 381.4,239.9 382.2,239.9 382.8,239.8 383.3,239.8 384.0,239.7 385.0,239.7 386.4,239.6 388.0,239.6 389.7,239.6" stroke="#aed250"/>
<polyline points="389.7,239.6 391.5,239.6 393.3,239.7 395.0,239.9" stroke="#a6d055"/>
<polyline points="395.0,239.9 396.7,240.1 398.3,240.4" stroke="#9fce5a"/>
<polyline points="398.3,240.4 400.0,240.8 401.7,241.3" stroke="#98cc60"/>
<polyline points="401.7,241.3 403.3,241.8" stroke="#90cb65"/>
<polyline points="403.3,241.8 405.0,242.4 406.7,243.0" stroke="#88ca6a"/>
<polyline points="406.7,243.0 408.5,243.6" stroke="#80ca6e"/>
<polyline points="408.5,243.6 410.3,244.4" stroke="#78c973"/>
<polyline points="410.3,244.4 412.0,245.1 413.6,245.9" stroke="#70c878"/>
<polyline points="413.6,245.9 415.0,246.5" stroke="#69c57e"/>
<polyline points="415.0,246.5 416.1,247.0 417.1,247.3 417.9,247.6" stroke="#62c284"/>
<polyline points="417.9,247.6 418.6,248.0 419.3,248.4" stroke="#5cc08a"/>
<polyline points="419.3,248.4 420.0,249.0 420.7,249.8" stroke="#55bd90"/>
<polyline points="420.7,249.8 421.4,250.7" stroke="#50bb95"/>
<polyline points="421.4,250.7 422.1,251.7" stroke="#4aba9a"/>
<polyline points="422.1,251.7 422.7,252.8" stroke="#45b89e"/>
<polyline points="422.7,252.8 423.3,253.9" stroke="#3fb7a3"/>
<polyline points="423.3,253.9 424.0,255.0 424.7,256.1" stroke="#3ab5a8"/>
<polyline points="424.7,256.1 425.4,257.1" stroke="#37b4ae"/>
<polyline points="425.4,257.1 426.1,258.2" stroke="#34b2b4"/>
<polyline points="426.1,258.2 426.7,259.3" stroke="#32b1ba"/>
<polyline points="426.7,259.3 427.4,260.6" stroke="#2fb0c0"/>
<polyline points="427.4,260.6 428.0,262.0" stroke="#2dacc3"/>
<polyline points="428.0,262.0 428.6,263.6" stroke="#2ca9c5"/>
<polyline points="428.6,263.6 429.1,265.4" stroke="#29a3c9"/>
<polyline points="429.1,265.4 429.6,267.3" stroke="#29a2cb"/>
<polyline points="429.6,267.3 430.1,269.3" stroke="#2799c9"/>
<polyline points="430.1,269.3 430.5,271.2" stroke="#2692c6"/>
<polyline points="430.5,271.2 431.0,273.0" stroke="#2585c0"/>
<polyline points="431.0,273.0 431.5,274.8" stroke="#2680bd"/>
<polyline points="431.5,274.8 431.9,276.6" stroke="#2675b6"/>
<polyline points="431.9,276.6 432.4,278.3" stroke="#276fb3"/>
<polyline points="432.4,278.3 432.8,280.0" stroke="#2865ad"/>
<polyline points="432.8,280.0 433.2,281.6" stroke="#285faa"/>
<polyline points="433.2,281.6 433.5,283.0" stroke="#295aa6"/>
<polyline points="433.5,283.0 433.8,284.2" stroke="#2a54a3"/>
<polyline points="433.8,284.2 433.9,285.2" stroke="#2a4fa0"/>
<polyline points="433.9,285.2 434.1,286.0" stroke="#315baa"/>
<polyline points="434.1,286.0 434.2,286.8 434.4,287.6" stroke="#3868b4"/>
<polyline points="434.4,287.6 434.5,288.5" stroke="#4a7bbf"/>
<polyline points="434.5,288.5 437.0,290.5" stroke="#81b0d8"/>
<polyline points="437.0,290.5 440.0,292.2" stroke="#c4e3f1"/>
<polyline points="440.0,292.2 444.0,294.0" stroke="#f5f9fa"/>
<polygon points="263.2,352.0 259.4,312.0 260.3,311.1 261.2,310.1 262.1,309.2 263.0,308.3 264.0,307.3 265.0,306.3 266.1,305.2 267.2,304.1 268.4,303.0 269.5,301.8 270.8,300.5 272.0,299.3 273.3,297.9 274.6,296.5 276.0,295.1 277.4,293.7 278.7,292.3 280.0,291.1 281.2,290.0 282.4,288.9 283.5,287.9 284.6,287.0 285.8,286.1 287.0,285.1 288.3,284.1 289.6,283.1 291.0,282.1 292.4,281.2 293.7,280.2 295.0,279.3 296.2,278.4 297.4,277.6 298.5,276.8 299.6,276.0 300.8,275.2 302.0,274.3 303.3,273.5 304.5,272.6 305.8,271.8 307.1,270.9 308.5,270.0 310.0,269.1 311.6,268.1 313.2,267.2 314.9,266.2 316.6,265.2 318.3,264.3 320.0,263.4 321.7,262.5 323.3,261.7 325.0,260.8 326.7,260.0 328.3,259.2 330.0,258.4 331.7,257.6 333.3,256.8 335.0,256.1 336.7,255.3 338.3,254.6 340.0,253.8 341.6,253.2 343.1,252.5 344.7,251.9 346.3,251.3 348.0,250.8 350.0,250.2 352.2,249.6 354.6,249.1 357.2,248.6 359.8,248.1 362.4,247.7 365.0,247.4 367.6,247.2 370.4,247.0 373.1,246.9 375.7,246.8 378.1,246.7 380.0,246.7 381.4,246.8 382.2,246.8 382.8,246.8 383.3,246.9 384.0,246.9 385.0,247.0 386.4,247.2 388.0,247.4 389.7,247.7 391.5,248.0 393.3,248.4 395.0,248.8 396.7,249.3 398.3,249.8 400.0,250.4 401.7,251.1 403.3,251.9 405.0,252.8 406.7,253.7 408.5,254.9 410.3,256.1 412.0,257.5 413.6,258.9 415.0,260.3 416.1,261.8 417.0,263.3 417.8,264.9 418.5,266.5 419.2,268.2 420.0,270.0 420.9,271.9 421.7,274.0 422.6,276.1 423.5,278.2 424.3,280.2 425.0,282.0 425.6,283.5 426.1,284.9 426.6,286.1 427.1,287.3 427.5,288.5 428.0,290.0 428.5,291.7 429.0,293.4 429.5,295.3 430.0,297.2 430.5,299.1 431.0,301.0 428.0,307.0" fill="#fbfbfb" stroke="none"/>
<line x1="263.2" y1="352" x2="259.4" y2="312" stroke="#2ba6c7" stroke-linecap="butt"/>
<polyline points="259.4,312.0 260.3,311.1 261.2,310.1 262.1,309.2" stroke="#2ca9c5"/>
<polyline points="262.1,309.2 263.0,308.3 264.0,307.3" stroke="#2dacc3"/>
<polyline points="264.0,307.3 265.0,306.3 266.1,305.2" stroke="#2fb0c0"/>
<polyline points="266.1,305.2 267.2,304.1 268.4,303.0" stroke="#32b1ba"/>
<polyline points="268.4,303.0 269.5,301.8 270.8,300.5" stroke="#34b2b4"/>
<polyline points="270.8,300.5 272.0,299.3" stroke="#37b4ae"/>
<polyline points="272.0,299.3 273.3,297.9 274.6,296.5" stroke="#3ab5a8"/>
<polyline points="274.6,296.5 276.0,295.1" stroke="#3fb7a3"/>
<polyline points="276.0,295.1 277.4,293.7 278.7,292.3" stroke="#45b89e"/>
<polyline points="278.7,292.3 280.0,291.1" stroke="#4aba9a"/>
<polyline points="280.0,291.1 281.2,290.0 282.4,288.9" stroke="#50bb95"/>
<polyline points="282.4,288.9 283.5,287.9 284.6,287.0 285.8,286.1" stroke="#55bd90"/>
<polyline points="285.8,286.1 287.0,285.1 288.3,284.1" stroke="#5cc08a"/>
<polyline points="288.3,284.1 289.6,283.1 291.0,282.1 292.4,281.2" stroke="#62c284"/>
<polyline points="292.4,281.2 293.7,280.2 295.0,279.3" stroke="#69c57e"/>
<polyline points="295.0,279.3 296.2,278.4 297.4,277.6 298.5,276.8" stroke="#70c878"/>
<polyline points="298.5,276.8 299.6,276.0 300.8,275.2 302.0,274.3" stroke="#78c973"/>
<polyline points="302.0,274.3 303.3,273.5 304.5,272.6 305.8,271.8" stroke="#80ca6e"/>
<polyline points="305.8,271.8 307.1,270.9 308.5,270.0 310.0,269.1" stroke="#88ca6a"/>
<polyline points="310.0,269.1 311.6,268.1 313.2,267.2 314.9,266.2" stroke="#90cb65"/>
<polyline points="314.9,266.2 316.6,265.2 318.3,264.3 320.0,263.4" stroke="#98cc60"/>
<polyline points="320.0,263.4 321.7,262.5 323.3,261.7 325.0,260.8" stroke="#9fce5a"/>
<polyline points="325.0,260.8 326.7,260.0 328.3,259.2 330.0,258.4 331.7,257.6" stroke="#a6d055"/>
<polyline points="331.7,257.6 333.3,256.8 335.0,256.1 336.7,255.3 338.3,254.6" stroke="#aed250"/>
<polyline points="338.3,254.6 340.0,253.8 341.6,253.2 343.1,252.5 344.7,251.9 346.3,251.3 348.0,250.8" stroke="#b5d44a"/>
<polyline points="348.0,250.8 350.0,250.2 352.2,249.6 354.6,249.1 357.2,248.6" stroke="#b6d44a"/>
<polyline points="357.2,248.6 359.8,248.1 362.4,247.7 365.0,247.4 367.6,247.2 370.4,247.0" stroke="#b5d44a"/>
<polyline points="370.4,247.0 373.1,246.9 375.7,246.8 378.1,246.7" stroke="#aed250"/>
<polyline points="378.1,246.7 380.0,246.7 381.4,246.8 382.2,246.8 382.8,246.8 383.3,246.9 384.0,246.9" stroke="#a6d055"/>
<polyline points="384.0,246.9 385.0,247.0 386.4,247.2 388.0,247.4" stroke="#9fce5a"/>
<polyline points="388.0,247.4 389.7,247.7 391.5,248.0" stroke="#98cc60"/>
<polyline points="391.5,248.0 393.3,248.4 395.0,248.8" stroke="#90cb65"/>
<polyline points="395.0,248.8 396.7,249.3 398.3,249.8" stroke="#88ca6a"/>
<polyline points="398.3,249.8 400.0,250.4" stroke="#80ca6e"/>
<polyline points="400.0,250.4 401.7,251.1 403.3,251.9" stroke="#78c973"/>
<polyline points="403.3,251.9 405.0,252.8" stroke="#70c878"/>
<polyline points="405.0,252.8 406.7,253.7" stroke="#69c57e"/>
<polyline points="406.7,253.7 408.5,254.9" stroke="#62c284"/>
<polyline points="408.5,254.9 410.3,256.1" stroke="#5cc08a"/>
<polyline points="410.3,256.1 412.0,257.5" stroke="#50bb95"/>
<polyline points="412.0,257.5 413.6,258.9" stroke="#4aba9a"/>
<polyline points="413.6,258.9 415.0,260.3" stroke="#45b89e"/>
<polyline points="415.0,260.3 416.1,261.8" stroke="#3fb7a3"/>
<polyline points="416.1,261.8 417.0,263.3" stroke="#37b4ae"/>
<polyline points="417.0,263.3 417.8,264.9" stroke="#34b2b4"/>
<polyline points="417.8,264.9 418.5,266.5" stroke="#32b1ba"/>
<polyline points="418.5,266.5 419.2,268.2" stroke="#2fb0c0"/>
<polyline points="419.2,268.2 420.0,270.0" stroke="#2ca9c5"/>
<polyline points="420.0,270.0 420.9,271.9" stroke="#2aa5c8"/>
<polyline points="420.9,271.9 421.7,274.0" stroke="#29a2cb"/>
<polyline points="421.7,274.0 422.6,276.1" stroke="#2799c9"/>
<polyline points="422.6,276.1 423.5,278.2" stroke="#2692c6"/>
<polyline points="423.5,278.2 424.3,280.2" stroke="#3a91c6"/>
<polyline points="424.3,280.2 425.0,282.0" stroke="#509dcc"/>
<polyline points="425.0,282.0 425.6,283.5 426.1,284.9" stroke="#65a8d2"/>
<polyline points="426.1,284.9 426.6,286.1 427.1,287.3" stroke="#7bb4d8"/>
<polyline points="427.1,287.3 427.5,288.5 428.0,290.0" stroke="#90c0de"/>
<polyline points="428.0,290.0 428.5,291.7" stroke="#a5cce3"/>
<polyline points="428.5,291.7 429.0,293.4 429.5,295.3" stroke="#bbd8e9"/>
<polyline points="429.5,295.3 430.0,297.2" stroke="#d0e3ef"/>
<polyline points="430.0,297.2 430.5,299.1" stroke="#e6eff5"/>
<polyline points="430.5,299.1 431.0,301.0" stroke="#fbfbfb"/>
<polygon points="268.8,356.5 265.0,312.9 265.5,312.4 266.0,311.9 266.4,311.4 266.9,310.9 267.4,310.3 268.0,309.7 268.6,309.0 269.3,308.3 269.9,307.6 270.6,306.8 271.3,306.0 272.0,305.3 272.7,304.6 273.3,303.9 274.0,303.1 274.7,302.4 275.3,301.7 276.0,301.0 276.6,300.3 277.2,299.7 277.8,299.1 278.4,298.4 279.2,297.7 280.0,296.8 281.0,295.8 282.1,294.8 283.2,293.6 284.5,292.4 285.7,291.3 287.0,290.1 288.3,289.0 289.6,287.9 291.0,286.9 292.4,285.8 293.7,284.8 295.0,283.9 296.2,283.0 297.4,282.2 298.5,281.4 299.6,280.6 300.8,279.9 302.0,279.1 303.3,278.3 304.5,277.6 305.8,276.8 307.1,276.0 308.5,275.2 310.0,274.4 311.6,273.5 313.2,272.6 314.9,271.6 316.6,270.7 318.3,269.8 320.0,268.9 321.7,268.0 323.3,267.2 325.0,266.4 326.7,265.6 328.3,264.8 330.0,264.1 331.7,263.3 333.3,262.6 335.0,262.0 336.7,261.3 338.3,260.7 340.0,260.0 341.6,259.5 343.1,258.9 344.7,258.4 346.3,257.9 348.0,257.5 350.0,257.0 352.2,256.6 354.6,256.2 357.2,255.9 359.8,255.6 362.4,255.4 365.0,255.2 367.6,255.1 370.4,255.1 373.1,255.1 375.7,255.2 378.1,255.4 380.0,255.5 381.4,255.7 382.2,255.9 382.8,256.0 383.3,256.1 384.0,256.2 385.0,256.5 386.4,256.9 388.0,257.3 389.7,257.8 391.5,258.5 393.3,259.1 395.0,259.9 396.7,260.7 398.4,261.7 400.2,262.9 401.9,264.1 403.5,265.4 405.0,266.7 406.4,268.1 407.7,269.5 408.9,271.0 410.0,272.5 411.0,274.2 412.0,275.8 412.8,277.6 413.6,279.3 414.2,281.2 414.8,283.1 415.4,285.0 416.0,287.0 416.7,289.1 417.4,291.3 418.1,293.6 418.8,295.8 419.4,298.0 420.0,300.0 420.5,301.9 421.0,303.8 421.5,305.7 421.9,307.3 422.2,308.8 422.5,310.0 422.7,310.9 422.8,311.4 422.9,311.7 422.9,311.9 422.9,312.2 423.0,312.5 420.0,318.5" fill="#fbfbfb" stroke="none"/>
<line x1="268.8" y1="356.5" x2="265" y2="312.9" stroke="#2eaec1" stroke-linecap="butt"/>
<polyline points="265.0,312.9 265.5,312.4 266.0,311.9 266.4,311.4 266.9,310.9" stroke="#2fb0c0"/>
<polyline points="266.9,310.9 267.4,310.3 268.0,309.7 268.6,309.0" stroke="#32b1ba"/>
<polyline points="268.6,309.0 269.3,308.3 269.9,307.6 270.6,306.8" stroke="#34b2b4"/>
<polyline points="270.6,306.8 271.3,306.0 272.0,305.3 272.7,304.6" stroke="#37b4ae"/>
<polyline points="272.7,304.6 273.3,303.9 274.0,303.1 274.7,302.4" stroke="#3ab5a8"/>
<polyline points="274.7,302.4 275.3,301.7 276.0,301.0 276.6,300.3" stroke="#3fb7a3"/>
<polyline points="276.6,300.3 277.2,299.7 277.8,299.1 278.4,298.4" stroke="#45b89e"/>
<polyline points="278.4,298.4 279.2,297.7 280.0,296.8 281.0,295.8" stroke="#4aba9a"/>
<polyline points="281.0,295.8 282.1,294.8 283.2,293.6" stroke="#50bb95"/>
<polyline points="283.2,293.6 284.5,292.4" stroke="#55bd90"/>
<polyline points="284.5,292.4 285.7,291.3 287.0,290.1" stroke="#5cc08a"/>
<polyline points="287.0,290.1 288.3,289.0 289.6,287.9 291.0,286.9" stroke="#62c284"/>
<polyline points="291.0,286.9 292.4,285.8 293.7,284.8" stroke="#69c57e"/>
<polyline points="293.7,284.8 295.0,283.9 296.2,283.0" stroke="#70c878"/>
<polyline points="296.2,283.0 297.4,282.2 298.5,281.4 299.6,280.6 300.8,279.9" stroke="#78c973"/>
<polyline points="300.8,279.9 302.0,279.1 303.3,278.3 304.5,277.6" stroke="#80ca6e"/>
<polyline points="304.5,277.6 305.8,276.8 307.1,276.0 308.5,275.2 310.0,274.4" stroke="#88ca6a"/>
<polyline points="310.0,274.4 311.6,273.5 313.2,272.6 314.9,271.6" stroke="#90cb65"/>
<polyline points="314.9,271.6 316.6,270.7 318.3,269.8 320.0,268.9" stroke="#98cc60"/>
<polyline points="320.0,268.9 321.7,268.0 323.3,267.2 325.0,266.4 326.7,265.6" stroke="#9fce5a"/>
<polyline points="326.7,265.6 328.3,264.8 330.0,264.1 331.7,263.3 333.3,262.6 335.0,262.0" stroke="#a6d055"/>
<polyline points="335.0,262.0 336.7,261.3 338.3,260.7 340.0,260.0 341.6,259.5 343.1,258.9 344.7,258.4 346.3,257.9 348.0,257.5 350.0,257.0 352.2,256.6 354.6,256.2 357.2,255.9 359.8,255.6 362.4,255.4 365.0,255.2" stroke="#aed250"/>
<polyline points="365.0,255.2 367.6,255.1 370.4,255.1" stroke="#a6d055"/>
<polyline points="370.4,255.1 373.1,255.1 375.7,255.2" stroke="#9fce5a"/>
<polyline points="375.7,255.2 378.1,255.4 380.0,255.5 381.4,255.7" stroke="#98cc60"/>
<polyline points="381.4,255.7 382.2,255.9 382.8,256.0 383.3,256.1 384.0,256.2 385.0,256.5" stroke="#90cb65"/>
<polyline points="385.0,256.5 386.4,256.9 388.0,257.3" stroke="#88ca6a"/>
<polyline points="388.0,257.3 389.7,257.8" stroke="#80ca6e"/>
<polyline points="389.7,257.8 391.5,258.5 393.3,259.1" stroke="#78c973"/>
<polyline points="393.3,259.1 395.0,259.9" stroke="#70c878"/>
<polyline points="395.0,259.9 396.7,260.7" stroke="#69c57e"/>
<polyline points="396.7,260.7 398.4,261.7" stroke="#62c284"/>
<polyline points="398.4,261.7 400.2,262.9" stroke="#5cc08a"/>
<polyline points="400.2,262.9 401.9,264.1" stroke="#55bd90"/>
<polyline points="401.9,264.1 403.5,265.4" stroke="#50bb95"/>
<polyline points="403.5,265.4 405.0,266.7" stroke="#4aba9a"/>
<polyline points="405.0,266.7 406.4,268.1" stroke="#45b89e"/>
<polyline points="406.4,268.1 407.7,269.5" stroke="#3ab5a8"/>
<polyline points="407.7,269.5 408.9,271.0" stroke="#37b4ae"/>
<polyline points="408.9,271.0 410.0,272.5" stroke="#34b2b4"/>
<polyline points="410.0,272.5 411.0,274.2" stroke="#32b1ba"/>
<polyline points="411.0,274.2 412.0,275.8" stroke="#2dacc3"/>
<polyline points="412.0,275.8 412.8,277.6" stroke="#2ca9c5"/>
<polyline points="412.8,277.6 413.6,279.3" stroke="#29a3c9"/>
<polyline points="413.6,279.3 414.2,281.2" stroke="#29a2cb"/>
<polyline points="414.2,281.2 414.8,283.1" stroke="#28a0cc"/>
<polyline points="414.8,283.1 415.4,285.0" stroke="#2692c6"/>
<polyline points="415.4,285.0 416.0,287.0" stroke="#2585c0"/>
<polyline points="416.0,287.0 416.7,289.1" stroke="#2680bd"/>
<polyline points="416.7,289.1 417.4,291.3" stroke="#2675b6"/>
<polyline points="417.4,291.3 418.1,293.6" stroke="#286ab0"/>
<polyline points="418.1,293.6 418.8,295.8" stroke="#285faa"/>
<polyline points="418.8,295.8 419.4,298.0" stroke="#295aa6"/>
<polyline points="419.4,298.0 420.0,300.0" stroke="#2a4fa0"/>
<polyline points="420.0,300.0 420.5,301.9" stroke="#3868b4"/>
<polyline points="420.5,301.9 421.0,303.8" stroke="#4a7bbf"/>
<polyline points="421.0,303.8 421.5,305.7" stroke="#81b0d8"/>
<polyline points="421.5,305.7 421.9,307.3" stroke="#a6cfe7"/>
<polyline points="421.9,307.3 422.2,308.8" stroke="#d7ecf5"/>
<polyline points="422.2,308.8 422.5,310.0" stroke="#f1f8fa"/>
<polyline points="422.5,310.0 422.7,310.9" stroke="#fdfdfd"/>
<polyline points="422.7,310.9 422.8,311.4 422.9,311.7" stroke="#fcfcfc"/>
<polyline points="422.9,311.7 422.9,311.9 422.9,312.2 423.0,312.5" stroke="#fbfbfb"/>
<polygon points="274.8,361.3 270.6,310.8 271.3,309.9 272.0,309.1 272.8,308.2 273.5,307.3 274.2,306.4 275.0,305.5 275.8,304.5 276.5,303.5 277.3,302.4 278.2,301.3 279.0,300.3 280.0,299.3 281.0,298.3 282.1,297.3 283.3,296.4 284.5,295.4 285.8,294.5 287.0,293.6 288.3,292.7 289.6,291.8 291.0,290.9 292.4,290.1 293.7,289.2 295.0,288.4 296.2,287.6 297.4,286.9 298.5,286.2 299.6,285.5 300.8,284.8 302.0,284.1 303.3,283.3 304.5,282.6 305.8,281.9 307.1,281.2 308.5,280.4 310.0,279.6 311.6,278.7 313.2,277.9 314.9,276.9 316.6,276.0 318.3,275.1 320.0,274.3 321.7,273.5 323.3,272.7 325.0,272.0 326.7,271.3 328.3,270.6 330.0,270.0 331.7,269.4 333.3,268.9 335.0,268.4 336.7,267.9 338.3,267.5 340.0,267.1 341.6,266.7 343.1,266.4 344.7,266.1 346.3,265.8 348.0,265.6 350.0,265.4 352.2,265.2 354.6,265.0 357.2,264.9 359.8,264.9 362.4,264.9 365.0,265.1 367.6,265.3 370.4,265.6 373.1,265.9 375.7,266.4 378.1,266.8 380.0,267.2 381.4,267.6 382.2,267.9 382.8,268.1 383.3,268.3 384.0,268.6 385.0,269.1 386.4,269.9 388.1,270.9 390.0,272.0 391.9,273.1 393.6,274.3 395.0,275.4 396.1,276.3 397.0,277.2 397.8,278.1 398.5,279.0 399.2,280.0 400.0,281.1 400.8,282.3 401.7,283.6 402.5,284.9 403.4,286.3 404.2,287.7 405.0,289.1 405.8,290.5 406.5,292.0 407.3,293.5 408.0,295.0 408.8,296.5 409.5,298.0 408.6,321.0" fill="#fbfbfb" stroke="none"/>
<line x1="274.8" y1="361.3" x2="270.6" y2="310.8" stroke="#39b5aa" stroke-linecap="butt"/>
<line x1="408.6" y1="321" x2="409.5" y2="298" stroke="#2675b6" stroke-linecap="butt"/>
<polyline points="270.6,310.8 271.3,309.9 272.0,309.1" stroke="#3ab5a8"/>
<polyline points="272.0,309.1 272.8,308.2 273.5,307.3" stroke="#3fb7a3"/>
<polyline points="273.5,307.3 274.2,306.4 275.0,305.5" stroke="#45b89e"/>
<polyline points="275.0,305.5 275.8,304.5 276.5,303.5" stroke="#4aba9a"/>
<polyline points="276.5,303.5 277.3,302.4 278.2,301.3" stroke="#50bb95"/>
<polyline points="278.2,301.3 279.0,300.3 280.0,299.3" stroke="#55bd90"/>
<polyline points="280.0,299.3 281.0,298.3 282.1,297.3 283.3,296.4" stroke="#5cc08a"/>
<polyline points="283.3,296.4 284.5,295.4 285.8,294.5" stroke="#62c284"/>
<polyline points="285.8,294.5 287.0,293.6 288.3,292.7 289.6,291.8" stroke="#69c57e"/>
<polyline points="289.6,291.8 291.0,290.9 292.4,290.1 293.7,289.2" stroke="#70c878"/>
<polyline points="293.7,289.2 295.0,288.4 296.2,287.6 297.4,286.9 298.5,286.2" stroke="#78c973"/>
<polyline points="298.5,286.2 299.6,285.5 300.8,284.8 302.0,284.1 303.3,283.3" stroke="#80ca6e"/>
<polyline points="303.3,283.3 304.5,282.6 305.8,281.9 307.1,281.2 308.5,280.4" stroke="#88ca6a"/>
<polyline points="308.5,280.4 310.0,279.6 311.6,278.7 313.2,277.9" stroke="#90cb65"/>
<polyline points="313.2,277.9 314.9,276.9 316.6,276.0 318.3,275.1 320.0,274.3" stroke="#98cc60"/>
<polyline points="320.0,274.3 321.7,273.5 323.3,272.7 325.0,272.0 326.7,271.3 328.3,270.6" stroke="#9fce5a"/>
<polyline points="328.3,270.6 330.0,270.0 331.7,269.4 333.3,268.9 335.0,268.4 336.7,267.9 338.3,267.5 340.0,267.1 341.6,266.7 343.1,266.4 344.7,266.1 346.3,265.8 348.0,265.6 350.0,265.4" stroke="#a6d055"/>
<polyline points="350.0,265.4 352.2,265.2 354.6,265.0 357.2,264.9 359.8,264.9" stroke="#9fce5a"/>
<polyline points="359.8,264.9 362.4,264.9 365.0,265.1" stroke="#98cc60"/>
<polyline points="365.0,265.1 367.6,265.3 370.4,265.6" stroke="#90cb65"/>
<polyline points="370.4,265.6 373.1,265.9" stroke="#88ca6a"/>
<polyline points="373.1,265.9 375.7,266.4 378.1,266.8" stroke="#80ca6e"/>
<polyline points="378.1,266.8 380.0,267.2" stroke="#78c973"/>
<polyline points="380.0,267.2 381.4,267.6 382.2,267.9 382.8,268.1 383.3,268.3" stroke="#70c878"/>
<polyline points="383.3,268.3 384.0,268.6 385.0,269.1" stroke="#69c57e"/>
<polyline points="385.0,269.1 386.4,269.9" stroke="#62c284"/>
<polyline points="386.4,269.9 388.1,270.9" stroke="#5cc08a"/>
<polyline points="388.1,270.9 390.0,272.0" stroke="#55bd90"/>
<polyline points="390.0,272.0 391.9,273.1" stroke="#50bb95"/>
<polyline points="391.9,273.1 393.6,274.3" stroke="#4aba9a"/>
<polyline points="393.6,274.3 395.0,275.4" stroke="#45b89e"/>
<polyline points="395.0,275.4 396.1,276.3" stroke="#3fb7a3"/>
<polyline points="396.1,276.3 397.0,277.2 397.8,278.1" stroke="#3ab5a8"/>
<polyline points="397.8,278.1 398.5,279.0" stroke="#37b4ae"/>
<polyline points="398.5,279.0 399.2,280.0" stroke="#34b2b4"/>
<polyline points="399.2,280.0 400.0,281.1" stroke="#32b1ba"/>
<polyline points="400.0,281.1 400.8,282.3" stroke="#2fb0c0"/>
<polyline points="400.8,282.3 401.7,283.6" stroke="#2dacc3"/>
<polyline points="401.7,283.6 402.5,284.9" stroke="#2ca9c5"/>
<polyline points="402.5,284.9 403.4,286.3" stroke="#2aa5c8"/>
<polyline points="403.4,286.3 404.2,287.7" stroke="#29a3c9"/>
<polyline points="404.2,287.7 405.0,289.1" stroke="#29a2cb"/>
<polyline points="405.0,289.1 405.8,290.5" stroke="#28a0cc"/>
<polyline points="405.8,290.5 406.5,292.0" stroke="#2799c9"/>
<polyline points="406.5,292.0 407.3,293.5" stroke="#268cc3"/>
<polyline points="407.3,293.5 408.0,295.0" stroke="#2585c0"/>
<polyline points="408.0,295.0 408.8,296.5" stroke="#2680bd"/>
<polyline points="408.8,296.5 409.5,298.0" stroke="#267aba"/>
<polygon points="280.7,365.8 276.1,307.1 276.7,306.2 277.3,305.4 277.9,304.5 278.5,303.7 279.2,302.8 280.0,302.0 281.0,301.2 282.1,300.4 283.2,299.6 284.5,298.8 285.7,298.1 287.0,297.3 288.3,296.6 289.6,295.8 291.0,295.0 292.4,294.3 293.7,293.5 295.0,292.8 296.2,292.1 297.4,291.4 298.5,290.8 299.6,290.2 300.8,289.5 302.0,288.9 303.3,288.2 304.5,287.5 305.8,286.8 307.1,286.2 308.5,285.5 310.0,284.8 311.6,284.1 313.2,283.4 314.9,282.6 316.6,281.9 318.3,281.2 320.0,280.6 321.7,280.0 323.3,279.4 325.0,278.8 326.7,278.3 328.3,277.8 330.0,277.4 331.7,277.0 333.3,276.6 335.0,276.2 336.7,275.9 338.3,275.6 340.0,275.4 341.6,275.2 343.1,275.0 344.7,274.9 346.3,274.8 348.0,274.7 350.0,274.7 352.3,274.7 354.8,274.9 357.5,275.1 360.2,275.3 362.7,275.7 365.0,276.0 367.0,276.4 368.9,276.8 370.6,277.3 372.2,277.8 373.7,278.3 375.0,278.8 376.1,279.2 377.0,279.6 377.8,280.0 378.5,280.4 379.2,280.7 380.0,281.2 380.8,281.7 381.7,282.3 382.5,282.8 383.3,283.4 384.2,284.1 385.0,284.8 385.8,285.6 386.7,286.4 387.5,287.3 388.3,288.2 389.2,289.1 390.0,290.0 390.8,291.0 391.7,292.0 392.5,293.0 393.3,294.0 394.2,295.0 395.0,296.0 393.4,331.6" fill="#fbfbfb" stroke="none"/>
<line x1="280.7" y1="365.8" x2="276.1" y2="307.1" stroke="#54bd91" stroke-linecap="butt"/>
<line x1="393.4" y1="331.6" x2="395" y2="296" stroke="#29a2ca" stroke-linecap="butt"/>
<polyline points="276.1,307.1 276.7,306.2 277.3,305.4" stroke="#55bd90"/>
<polyline points="277.3,305.4 277.9,304.5 278.5,303.7" stroke="#5cc08a"/>
<polyline points="278.5,303.7 279.2,302.8 280.0,302.0 281.0,301.2" stroke="#62c284"/>
<polyline points="281.0,301.2 282.1,300.4 283.2,299.6 284.5,298.8" stroke="#69c57e"/>
<polyline points="284.5,298.8 285.7,298.1 287.0,297.3 288.3,296.6 289.6,295.8" stroke="#70c878"/>
<polyline points="289.6,295.8 291.0,295.0 292.4,294.3 293.7,293.5 295.0,292.8" stroke="#78c973"/>
<polyline points="295.0,292.8 296.2,292.1 297.4,291.4 298.5,290.8 299.6,290.2" stroke="#80ca6e"/>
<polyline points="299.6,290.2 300.8,289.5 302.0,288.9 303.3,288.2 304.5,287.5 305.8,286.8" stroke="#88ca6a"/>
<polyline points="305.8,286.8 307.1,286.2 308.5,285.5 310.0,284.8 311.6,284.1 313.2,283.4" stroke="#90cb65"/>
<polyline points="313.2,283.4 314.9,282.6 316.6,281.9 318.3,281.2 320.0,280.6 321.7,280.0 323.3,279.4 325.0,278.8 326.7,278.3" stroke="#98cc60"/>
<polyline points="326.7,278.3 328.3,277.8 330.0,277.4 331.7,277.0 333.3,276.6 335.0,276.2 336.7,275.9" stroke="#9fce5a"/>
<polyline points="336.7,275.9 338.3,275.6 340.0,275.4 341.6,275.2 343.1,275.0 344.7,274.9 346.3,274.8 348.0,274.7" stroke="#98cc60"/>
<polyline points="348.0,274.7 350.0,274.7 352.3,274.7 354.8,274.9" stroke="#90cb65"/>
<polyline points="354.8,274.9 357.5,275.1" stroke="#88ca6a"/>
<polyline points="357.5,275.1 360.2,275.3 362.7,275.7" stroke="#80ca6e"/>
<polyline points="362.7,275.7 365.0,276.0 367.0,276.4" stroke="#78c973"/>
<polyline points="367.0,276.4 368.9,276.8 370.6,277.3" stroke="#70c878"/>
<polyline points="370.6,277.3 372.2,277.8" stroke="#69c57e"/>
<polyline points="372.2,277.8 373.7,278.3 375.0,278.8" stroke="#62c284"/>
<polyline points="375.0,278.8 376.1,279.2 377.0,279.6" stroke="#5cc08a"/>
<polyline points="377.0,279.6 377.8,280.0 378.5,280.4 379.2,280.7" stroke="#55bd90"/>
<polyline points="379.2,280.7 380.0,281.2 380.8,281.7" stroke="#50bb95"/>
<polyline points="380.8,281.7 381.7,282.3 382.5,282.8" stroke="#4aba9a"/>
<polyline points="382.5,282.8 383.3,283.4 384.2,284.1" stroke="#45b89e"/>
<polyline points="384.2,284.1 385.0,284.8 385.8,285.6" stroke="#3fb7a3"/>
<polyline points="385.8,285.6 386.7,286.4" stroke="#3ab5a8"/>
<polyline points="386.7,286.4 387.5,287.3" stroke="#37b4ae"/>
<polyline points="387.5,287.3 388.3,288.2 389.2,289.1" stroke="#34b2b4"/>
<polyline points="389.2,289.1 390.0,290.0" stroke="#32b1ba"/>
<polyline points="390.0,290.0 390.8,291.0" stroke="#2fb0c0"/>
<polyline points="390.8,291.0 391.7,292.0" stroke="#2dacc3"/>
<polyline points="391.7,292.0 392.5,293.0 393.3,294.0" stroke="#2ca9c5"/>
<polyline points="393.3,294.0 394.2,295.0" stroke="#2aa5c8"/>
<polyline points="394.2,295.0 395.0,296.0" stroke="#29a3c9"/>
<polygon points="287.0,371.0 282.3,305.3 283.5,304.6 284.7,303.9 285.9,303.3 287.1,302.6 288.3,301.9 289.4,301.3 290.4,300.7 291.3,300.2 292.1,299.7 293.0,299.2 293.9,298.6 295.0,298.1 296.2,297.4 297.5,296.8 298.9,296.1 300.3,295.4 301.7,294.7 303.0,294.0 304.2,293.5 305.3,293.0 306.4,292.5 307.5,292.0 308.7,291.5 310.0,290.9 311.5,290.3 313.1,289.7 314.8,289.1 316.6,288.4 318.3,287.9 320.0,287.3 321.7,286.8 323.3,286.4 325.0,286.0 326.7,285.6 328.3,285.3 330.0,285.0 331.7,284.8 333.3,284.7 335.0,284.5 336.7,284.5 338.3,284.4 340.0,284.4 341.7,284.5 343.3,284.5 345.0,284.6 346.7,284.8 348.3,285.0 350.0,285.3 351.7,285.6 353.3,286.0 355.0,286.4 356.7,286.9 358.3,287.4 360.0,288.0 361.7,288.6 363.4,289.3 365.2,290.0 366.9,290.7 368.5,291.5 370.0,292.2 371.4,293.0 372.7,293.8 373.9,294.5 375.1,295.3 376.3,296.1 377.5,296.9 377.0,343.0" fill="#fbfbfb" stroke="none"/>
<line x1="287" y1="371" x2="282.3" y2="305.3" stroke="#6ec77a" stroke-linecap="butt"/>
<line x1="377" y1="343" x2="377.5" y2="296.9" stroke="#35b3b4" stroke-linecap="butt"/>
<polyline points="282.3,305.3 283.5,304.6 284.7,303.9 285.9,303.3 287.1,302.6" stroke="#70c878"/>
<polyline points="287.1,302.6 288.3,301.9 289.4,301.3 290.4,300.7 291.3,300.2 292.1,299.7" stroke="#78c973"/>
<polyline points="292.1,299.7 293.0,299.2 293.9,298.6 295.0,298.1 296.2,297.4 297.5,296.8" stroke="#80ca6e"/>
<polyline points="297.5,296.8 298.9,296.1 300.3,295.4 301.7,294.7 303.0,294.0 304.2,293.5 305.3,293.0" stroke="#88ca6a"/>
<polyline points="305.3,293.0 306.4,292.5 307.5,292.0 308.7,291.5 310.0,290.9 311.5,290.3 313.1,289.7 314.8,289.1 316.6,288.4" stroke="#90cb65"/>
<polyline points="316.6,288.4 318.3,287.9 320.0,287.3 321.7,286.8 323.3,286.4 325.0,286.0 326.7,285.6 328.3,285.3 330.0,285.0" stroke="#98cc60"/>
<polyline points="330.0,285.0 331.7,284.8 333.3,284.7 335.0,284.5 336.7,284.5 338.3,284.4" stroke="#90cb65"/>
<polyline points="338.3,284.4 340.0,284.4 341.7,284.5 343.3,284.5 345.0,284.6" stroke="#88ca6a"/>
<polyline points="345.0,284.6 346.7,284.8 348.3,285.0" stroke="#80ca6e"/>
<polyline points="348.3,285.0 350.0,285.3 351.7,285.6" stroke="#78c973"/>
<polyline points="351.7,285.6 353.3,286.0 355.0,286.4" stroke="#70c878"/>
<polyline points="355.0,286.4 356.7,286.9 358.3,287.4" stroke="#69c57e"/>
<polyline points="358.3,287.4 360.0,288.0 361.7,288.6" stroke="#62c284"/>
<polyline points="361.7,288.6 363.4,289.3" stroke="#5cc08a"/>
<polyline points="363.4,289.3 365.2,290.0" stroke="#55bd90"/>
<polyline points="365.2,290.0 366.9,290.7 368.5,291.5" stroke="#50bb95"/>
<polyline points="368.5,291.5 370.0,292.2" stroke="#4aba9a"/>
<polyline points="370.0,292.2 371.4,293.0" stroke="#45b89e"/>
<polyline points="371.4,293.0 372.7,293.8 373.9,294.5" stroke="#3fb7a3"/>
<polyline points="373.9,294.5 375.1,295.3" stroke="#3ab5a8"/>
<polyline points="375.1,295.3 376.3,296.1" stroke="#37b4ae"/>
<polyline points="376.3,296.1 377.5,296.9" stroke="#34b2b4"/>
<polygon points="293.3,376.0 289.0,309.0 290.0,308.5 291.0,307.9 292.1,307.3 293.1,306.8 294.1,306.3 295.0,305.8 295.8,305.4 296.6,305.1 297.2,304.8 298.0,304.5 298.9,304.1 300.0,303.7 301.4,303.2 303.0,302.6 304.7,301.9 306.5,301.3 308.3,300.7 310.0,300.2 311.7,299.8 313.3,299.4 315.0,299.0 316.7,298.7 318.3,298.4 320.0,298.2 321.7,298.0 323.3,297.9 325.0,297.8 326.7,297.7 328.3,297.7 330.0,297.8 331.7,297.9 333.3,298.1 335.0,298.4 336.7,298.7 338.3,299.1 340.0,299.5 341.7,300.0 343.4,300.5 345.0,301.0 346.7,301.6 348.4,302.3 350.0,303.0 351.6,303.8 353.2,304.7 354.8,305.6 356.4,306.6 357.9,307.6 359.5,308.5 359.0,355.6" fill="#fbfbfb" stroke="none"/>
<line x1="293.3" y1="376" x2="289" y2="309" stroke="#72c877" stroke-linecap="butt"/>
<line x1="359" y1="355.6" x2="359.5" y2="308.5" stroke="#34b2b5" stroke-linecap="butt"/>
<polyline points="289.0,309.0 290.0,308.5 291.0,307.9" stroke="#70c878"/>
<polyline points="291.0,307.9 292.1,307.3 293.1,306.8 294.1,306.3 295.0,305.8 295.8,305.4 296.6,305.1 297.2,304.8 298.0,304.5" stroke="#78c973"/>
<polyline points="298.0,304.5 298.9,304.1 300.0,303.7 301.4,303.2 303.0,302.6 304.7,301.9 306.5,301.3 308.3,300.7 310.0,300.2 311.7,299.8 313.3,299.4 315.0,299.0 316.7,298.7 318.3,298.4 320.0,298.2 321.7,298.0 323.3,297.9" stroke="#80ca6e"/>
<polyline points="323.3,297.9 325.0,297.8 326.7,297.7 328.3,297.7 330.0,297.8" stroke="#78c973"/>
<polyline points="330.0,297.8 331.7,297.9 333.3,298.1" stroke="#70c878"/>
<polyline points="333.3,298.1 335.0,298.4 336.7,298.7 338.3,299.1" stroke="#69c57e"/>
<polyline points="338.3,299.1 340.0,299.5 341.7,300.0" stroke="#62c284"/>
<polyline points="341.7,300.0 343.4,300.5" stroke="#5cc08a"/>
<polyline points="343.4,300.5 345.0,301.0 346.7,301.6" stroke="#55bd90"/>
<polyline points="346.7,301.6 348.4,302.3" stroke="#50bb95"/>
<polyline points="348.4,302.3 350.0,303.0 351.6,303.8" stroke="#4aba9a"/>
<polyline points="351.6,303.8 353.2,304.7" stroke="#45b89e"/>
<polyline points="353.2,304.7 354.8,305.6" stroke="#3fb7a3"/>
<polyline points="354.8,305.6 356.4,306.6" stroke="#3ab5a8"/>
<polyline points="356.4,306.6 357.9,307.6" stroke="#37b4ae"/>
<polyline points="357.9,307.6 359.5,308.5" stroke="#34b2b4"/>
<polygon points="300.0,381.0 295.5,314.0 296.2,313.9 296.8,313.9 297.4,313.8 298.1,313.7 298.9,313.6 300.0,313.5 301.3,313.3 302.9,313.0 304.7,312.7 306.5,312.4 308.3,312.1 310.0,312.0 311.7,312.0 313.3,312.1 315.0,312.2 316.7,312.4 318.3,312.7 320.0,313.0 321.7,313.4 323.3,313.8 325.0,314.3 326.7,314.9 328.3,315.4 330.0,316.0 331.7,316.6 333.3,317.3 335.0,317.9 336.7,318.6 338.3,319.3 340.0,320.0 340.6,368.0" fill="#fbfbfb" stroke="none"/>
<line x1="300" y1="381" x2="295.5" y2="314" stroke="#71c877" stroke-linecap="butt"/>
<line x1="340.6" y1="368" x2="340" y2="320" stroke="#35b3b4" stroke-linecap="butt"/>
<polyline points="295.5,314.0 296.2,313.9 296.8,313.9 297.4,313.8 298.1,313.7 298.9,313.6 300.0,313.5 301.3,313.3 302.9,313.0 304.7,312.7" stroke="#70c878"/>
<polyline points="304.7,312.7 306.5,312.4 308.3,312.1 310.0,312.0 311.7,312.0 313.3,312.1" stroke="#69c57e"/>
<polyline points="313.3,312.1 315.0,312.2 316.7,312.4" stroke="#62c284"/>
<polyline points="316.7,312.4 318.3,312.7 320.0,313.0 321.7,313.4" stroke="#5cc08a"/>
<polyline points="321.7,313.4 323.3,313.8" stroke="#55bd90"/>
<polyline points="323.3,313.8 325.0,314.3 326.7,314.9" stroke="#50bb95"/>
<polyline points="326.7,314.9 328.3,315.4 330.0,316.0" stroke="#4aba9a"/>
<polyline points="330.0,316.0 331.7,316.6" stroke="#45b89e"/>
<polyline points="331.7,316.6 333.3,317.3 335.0,317.9" stroke="#3fb7a3"/>
<polyline points="335.0,317.9 336.7,318.6" stroke="#3ab5a8"/>
<polyline points="336.7,318.6 338.3,319.3" stroke="#37b4ae"/>
<polyline points="338.3,319.3 340.0,320.0" stroke="#34b2b4"/>
<polygon points="306.6,386.5 303.5,329.3 304.6,329.6 305.7,329.8 306.8,330.1 307.9,330.4 308.9,330.7 310.0,331.0 311.1,331.4 312.1,331.8 313.2,332.3 314.2,332.7 315.2,333.1 316.0,333.5 316.7,333.8 317.2,334.1 317.7,334.3 318.1,334.5 318.5,334.8 319.0,335.0 320.5,382.0" fill="#fbfbfb" stroke="none"/>
<line x1="306.6" y1="386.5" x2="303.5" y2="329.3" stroke="#49ba9a" stroke-linecap="butt"/>
<line x1="320.5" y1="382" x2="319" y2="335" stroke="#31b1bc" stroke-linecap="butt"/>
<polyline points="303.5,329.3 304.6,329.6" stroke="#4aba9a"/>
<polyline points="304.6,329.6 305.7,329.8 306.8,330.1 307.9,330.4" stroke="#45b89e"/>
<polyline points="307.9,330.4 308.9,330.7 310.0,331.0 311.1,331.4" stroke="#3fb7a3"/>
<polyline points="311.1,331.4 312.1,331.8 313.2,332.3" stroke="#3ab5a8"/>
<polyline points="313.2,332.3 314.2,332.7 315.2,333.1" stroke="#37b4ae"/>
<polyline points="315.2,333.1 316.0,333.5 316.7,333.8 317.2,334.1" stroke="#34b2b4"/>
<polyline points="317.2,334.1 317.7,334.3 318.1,334.5 318.5,334.8 319.0,335.0" stroke="#32b1ba"/>
</g>
<polyline points="202.0,312.5 177.2,159.5 379.5,106.2 501.7,135.5 482.0,275.0" fill="none" stroke="#444" stroke-width="1.15" stroke-linejoin="miter"/>
<polyline points="202.0,312.5 306.8,397.5 482.0,275.0" fill="none" stroke="#444" stroke-width="1.15"/>
<line x1="314.2" y1="392.4" x2="318.7" y2="396.5" stroke="#444" stroke-width="1.1"/>
<line x1="381.4" y1="345.7" x2="385.7" y2="348.9" stroke="#444" stroke-width="1.1"/>
<line x1="434.7" y1="307.5" x2="439.2" y2="310.7" stroke="#444" stroke-width="1.1"/>
<line x1="479.2" y1="276.5" x2="483.5" y2="279.2" stroke="#444" stroke-width="1.1"/>
<line x1="303" y1="394.5" x2="297" y2="398.7" stroke="#444" stroke-width="1.1"/>
<line x1="266.5" y1="364.8" x2="261" y2="368" stroke="#444" stroke-width="1.1"/>
<line x1="231.5" y1="336.5" x2="226.5" y2="339.5" stroke="#444" stroke-width="1.1"/>
<line x1="203" y1="315" x2="199" y2="316.5" stroke="#444" stroke-width="1.1"/>
<g fill="#444" font-family="DejaVu Sans, Liberation Sans, sans-serif">
<text x="12.1" y="23.9" text-anchor="start" font-size="12" style="word-spacing:0.4px;letter-spacing:0.020px">x-Axis: <tspan dx="1.4">Common gear width [mm]</tspan></text>
<text x="12.1" y="39.5" text-anchor="start" font-size="12" style="word-spacing:0.4px;letter-spacing:0.014px">y-Axis: <tspan dx="1.4">Path of contact [mm]</tspan></text>
<text x="12.1" y="55" text-anchor="start" font-size="12" style="word-spacing:0.4px;letter-spacing:0.138px">z-Axis: <tspan dx="1.4">Pressure distribution [N/mm²]</tspan></text>
<text x="168.2" y="181.5" text-anchor="end" font-size="10.2">1500</text>
<text x="177.8" y="234.4" text-anchor="end" font-size="10.2">1000</text>
<text x="183.5" y="282" text-anchor="end" font-size="10.2">500</text>
<text x="184.3" y="325.6" text-anchor="end" font-size="10.2">0</text>
<text x="195.3" y="330.5" text-anchor="end" font-size="10.2">37.3 E</text>
<text x="222.9" y="354.5" text-anchor="end" font-size="10.2">25.2 D</text>
<text x="255.9" y="384.6" text-anchor="end" font-size="10.2">12.1 B</text>
<text x="284" y="416.9" text-anchor="end" font-size="10.2">0 A</text>
<text x="337.6" y="414.8" text-anchor="middle" font-size="10.2">0</text>
<text x="404.2" y="364.6" text-anchor="middle" font-size="10.2">20</text>
<text x="457.6" y="324.3" text-anchor="middle" font-size="10.2">40</text>
<text x="501" y="291.4" text-anchor="middle" font-size="10.2">60</text>
<text x="130.5" y="268.7" text-anchor="middle" font-size="13.5">z</text>
<text x="185.1" y="388.5" text-anchor="middle" font-size="13.5">y</text>
<text x="465" y="362" text-anchor="middle" font-size="13.5">x</text>
</g>
<rect x="456.4" y="417.4" width="233.2" height="22" fill="#fff" stroke="#34495e" stroke-width="1.4"/>
<text x="460.4" y="432.4" text-anchor="start" font-size="12" style="word-spacing:0.4px;letter-spacing:0.079px" fill="#444" font-family="DejaVu Sans, Liberation Sans, sans-serif">max. Hertzian stress: <tspan dx="1.4">864.04 N/mm²</tspan></text>
</svg>
</body></html>
